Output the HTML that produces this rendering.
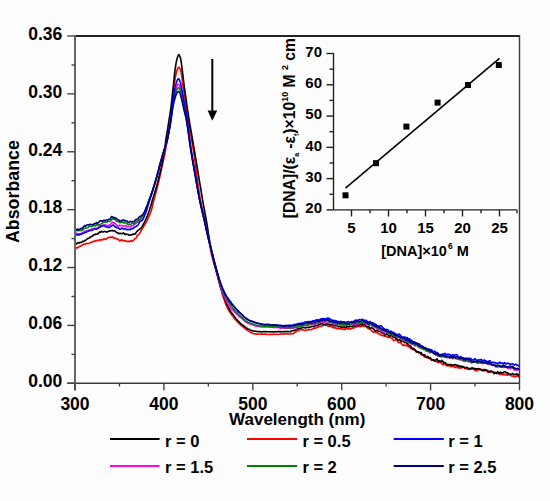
<!DOCTYPE html>
<html><head><meta charset="utf-8"><style>
html,body{margin:0;padding:0;background:#fdfdfd;}
svg{display:block;}
text{font-family:"Liberation Sans",sans-serif;font-weight:bold;fill:#000;stroke:none;}
</style></head><body>
<svg width="550" height="501" viewBox="0 0 550 501">
<rect width="550" height="501" fill="#fdfdfd"/>
<g><polyline points="75.0,248.89 75.5,248.80 76.0,248.43 76.5,247.81 77.0,247.56 77.5,247.84 78.0,247.59 78.5,247.18 79.0,246.75 79.5,246.40 80.0,246.16 80.5,245.92 81.0,246.02 81.5,245.89 82.0,245.64 82.5,244.71 83.0,244.71 83.5,244.17 84.0,244.23 84.5,243.88 85.0,244.06 85.5,244.15 86.0,243.69 86.5,243.38 87.0,243.30 87.5,243.68 88.0,243.68 88.5,243.58 89.0,243.38 89.5,243.03 90.0,242.65 90.5,242.40 91.0,242.43 91.5,242.45 92.0,242.03 92.5,241.82 93.0,241.21 93.5,241.39 94.0,241.32 94.5,241.38 95.0,241.12 95.5,240.68 96.0,241.07 96.5,240.51 97.0,240.40 97.5,240.28 98.0,240.84 98.5,240.46 99.0,240.09 99.5,239.80 100.0,240.02 100.5,240.36 101.0,239.92 101.5,240.01 102.0,239.33 102.5,239.77 103.0,239.57 103.5,239.59 104.0,238.78 104.5,239.00 105.0,239.09 105.5,239.46 106.0,239.18 106.5,238.93 107.0,238.47 107.5,237.90 108.0,237.50 108.5,237.79 109.0,237.52 109.5,237.45 110.0,236.99 110.5,237.27 111.0,237.45 111.5,237.22 112.0,236.79 112.5,236.69 113.0,237.29 113.5,237.94 114.0,238.13 114.5,237.98 115.0,238.08 115.5,238.18 116.0,238.64 116.5,238.61 117.0,238.89 117.5,238.88 118.0,239.32 118.5,239.49 119.0,240.22 119.5,240.59 120.0,241.04 120.5,240.23 121.0,240.01 121.5,239.72 122.0,240.43 122.5,240.15 123.0,240.65 123.5,240.86 124.0,241.15 124.5,240.73 125.0,240.34 125.5,240.63 126.0,240.98 126.5,241.58 127.0,241.53 127.5,241.56 128.0,241.16 128.5,241.57 129.0,241.57 129.5,241.83 130.0,241.22 130.5,241.02 131.0,240.55 131.5,241.11 132.0,241.29 132.5,241.36 133.0,240.72 133.5,240.30 134.0,239.71 134.5,239.03 135.0,238.42 135.5,238.49 136.0,238.08 136.5,237.33 137.0,236.01 137.5,235.21 138.0,234.85 138.5,234.66 139.0,234.30 139.5,233.55 140.0,232.63 140.5,231.85 141.0,230.66 141.5,229.75 142.0,228.95 142.5,228.28 143.0,227.46 143.5,226.48 144.0,225.72 144.5,225.07 145.0,224.27 145.5,223.43 146.0,222.54 146.5,221.74 147.0,220.95 147.5,219.55 148.0,218.44 148.5,217.08 149.0,216.12 149.5,214.97 150.0,213.90 150.5,212.73 151.0,211.34 151.5,209.88 152.0,208.00 152.5,205.95 153.0,203.76 153.5,201.61 154.0,199.78 154.5,197.92 155.0,196.28 155.5,194.31 156.0,192.38 156.5,190.37 157.0,188.49 157.5,186.53 158.0,184.57 158.5,182.49 159.0,180.56 159.5,178.32 160.0,176.14 160.5,173.67 161.0,171.33 161.5,168.93 162.0,166.65 162.5,164.49 163.0,162.34 163.5,160.09 164.0,157.72 164.5,155.29 165.0,152.77 165.5,150.15 166.0,147.34 166.5,144.47 167.0,141.67 167.5,138.63 168.0,135.75 168.5,132.55 169.0,129.45 169.5,125.92 170.0,122.23 170.5,118.48 171.0,114.72 171.5,110.81 172.0,106.31 172.5,101.28 173.0,96.04 173.5,90.99 174.0,86.66 174.5,82.91 175.0,79.52 175.5,76.34 176.0,73.94 176.5,72.08 177.0,70.46 177.5,68.96 178.0,67.79 178.5,67.34 179.0,67.51 179.5,68.07 180.0,68.95 180.5,70.05 181.0,71.53 181.5,74.43 182.0,78.13 182.5,82.26 183.0,86.01 183.5,89.23 184.0,92.26 184.5,95.32 185.0,98.57 185.5,102.17 186.0,105.85 186.5,109.39 187.0,112.50 187.5,115.65 188.0,118.94 188.5,121.96 189.0,124.89 189.5,127.65 190.0,130.51 190.5,133.50 191.0,136.29 191.5,139.23 192.0,142.02 192.5,145.11 193.0,148.07 193.5,151.38 194.0,154.69 194.5,158.28 195.0,161.70 195.5,165.36 196.0,169.14 196.5,173.03 197.0,176.88 197.5,180.63 198.0,184.24 198.5,187.72 199.0,191.08 199.5,194.29 200.0,197.30 200.5,200.08 201.0,202.69 201.5,205.09 202.0,207.25 202.5,209.34 203.0,211.54 203.5,213.61 204.0,215.65 204.5,217.68 205.0,220.07 205.5,222.32 206.0,224.75 206.5,227.19 207.0,229.74 207.5,232.34 208.0,234.89 208.5,237.56 209.0,240.29 209.5,243.20 210.0,246.30 210.5,249.37 211.0,252.03 211.5,254.45 212.0,256.39 212.5,258.46 213.0,260.21 213.5,261.92 214.0,263.63 214.5,265.40 215.0,267.20 215.5,268.85 216.0,270.58 216.5,272.39 217.0,274.19 217.5,275.97 218.0,277.97 218.5,279.96 219.0,281.97 219.5,283.92 220.0,285.83 220.5,287.53 221.0,289.13 221.5,290.88 222.0,292.74 222.5,294.54 223.0,296.22 223.5,297.72 224.0,299.27 224.5,300.76 225.0,302.29 225.5,303.62 226.0,304.85 226.5,305.98 227.0,307.02 227.5,308.02 228.0,309.00 228.5,309.92 229.0,310.99 229.5,311.78 230.0,312.49 230.5,313.07 231.0,313.75 231.5,314.46 232.0,315.19 232.5,315.80 233.0,316.32 233.5,316.96 234.0,317.62 234.5,318.57 235.0,319.09 235.5,319.65 236.0,320.24 236.5,320.77 237.0,321.42 237.5,321.94 238.0,322.53 238.5,323.00 239.0,323.39 239.5,323.90 240.0,324.30 240.5,324.77 241.0,325.18 241.5,325.82 242.0,326.17 242.5,326.47 243.0,326.77 243.5,327.16 244.0,327.64 244.5,328.01 245.0,328.53 245.5,328.88 246.0,329.27 246.5,329.43 247.0,329.81 247.5,330.31 248.0,330.80 248.5,331.16 249.0,331.29 249.5,331.66 250.0,331.97 250.5,332.20 251.0,332.44 251.5,332.67 252.0,333.04 252.5,333.15 253.0,333.46 253.5,333.62 254.0,333.82 254.5,333.78 255.0,333.83 255.5,333.97 256.0,334.03 256.5,334.15 257.0,334.14 257.5,334.28 258.0,334.27 258.5,334.23 259.0,333.97 259.5,333.94 260.0,334.02 260.5,334.20 261.0,334.24 261.5,334.14 262.0,334.10 262.5,333.97 263.0,334.14 263.5,334.19 264.0,334.24 264.5,334.00 265.0,333.98 265.5,334.16 266.0,334.33 266.5,334.28 267.0,334.29 267.5,334.39 268.0,334.56 268.5,334.50 269.0,334.48 269.5,334.44 270.0,334.44 270.5,334.25 271.0,334.35 271.5,334.30 272.0,334.59 272.5,334.22 273.0,334.27 273.5,334.16 274.0,334.34 274.5,334.32 275.0,334.29 275.5,334.39 276.0,334.28 276.5,334.18 277.0,334.23 277.5,334.43 278.0,334.45 278.5,334.34 279.0,334.22 279.5,334.32 280.0,334.18 280.5,334.00 281.0,333.89 281.5,333.87 282.0,333.95 282.5,333.94 283.0,334.12 283.5,334.05 284.0,334.13 284.5,333.84 285.0,334.03 285.5,333.72 286.0,333.77 286.5,333.77 287.0,333.90 287.5,333.95 288.0,333.80 288.5,333.89 289.0,333.96 289.5,333.97 290.0,334.00 290.5,333.85 291.0,333.73 291.5,333.44 292.0,333.61 292.5,333.72 293.0,333.84 293.5,333.48 294.0,333.08 294.5,332.72 295.0,332.34 295.5,332.13 296.0,331.76 296.5,331.36 297.0,330.89 297.5,330.45 298.0,330.52 298.5,330.68 299.0,330.52 299.5,330.18 300.0,329.46 300.5,329.53 301.0,329.57 301.5,329.82 302.0,329.99 302.5,329.84 303.0,330.05 303.5,330.03 304.0,330.14 304.5,330.35 305.0,330.50 305.5,330.47 306.0,330.07 306.5,329.94 307.0,330.06 307.5,329.99 308.0,329.72 308.5,329.57 309.0,329.59 309.5,329.62 310.0,329.53 310.5,329.68 311.0,329.60 311.5,329.49 312.0,329.21 312.5,329.05 313.0,328.91 313.5,328.39 314.0,328.18 314.5,327.94 315.0,328.28 315.5,328.00 316.0,327.92 316.5,327.54 317.0,327.65 317.5,327.43 318.0,327.16 318.5,326.76 319.0,326.49 319.5,326.40 320.0,326.20 320.5,326.18 321.0,326.35 321.5,326.16 322.0,326.00 322.5,325.51 323.0,325.61 323.5,325.31 324.0,325.16 324.5,324.98 325.0,325.27 325.5,325.39 326.0,325.32 326.5,325.11 327.0,325.28 327.5,325.75 328.0,326.09 328.5,326.16 329.0,326.12 329.5,326.03 330.0,326.10 330.5,326.13 331.0,326.54 331.5,326.77 332.0,326.75 332.5,327.07 333.0,327.56 333.5,327.88 334.0,327.86 334.5,327.70 335.0,328.03 335.5,327.79 336.0,328.19 336.5,328.08 337.0,328.77 337.5,328.59 338.0,328.73 338.5,328.55 339.0,328.82 339.5,328.81 340.0,328.84 340.5,328.60 341.0,328.45 341.5,328.81 342.0,329.03 342.5,329.39 343.0,329.37 343.5,329.04 344.0,329.03 344.5,329.15 345.0,329.57 345.5,329.10 346.0,328.01 346.5,327.56 347.0,328.28 347.5,328.90 348.0,329.08 348.5,328.98 349.0,328.87 349.5,328.91 350.0,328.85 350.5,329.01 351.0,328.89 351.5,328.39 352.0,328.20 352.5,327.80 353.0,328.02 353.5,328.28 354.0,328.01 354.5,327.02 355.0,326.17 355.5,326.29 356.0,326.93 356.5,327.20 357.0,326.85 357.5,326.34 358.0,326.31 358.5,326.16 359.0,326.53 359.5,326.11 360.0,326.49 360.5,326.35 361.0,326.54 361.5,326.52 362.0,326.08 362.5,325.94 363.0,325.74 363.5,326.06 364.0,326.37 364.5,326.43 365.0,326.37 365.5,326.12 366.0,326.38 366.5,327.04 367.0,327.34 367.5,328.05 368.0,328.28 368.5,328.77 369.0,328.48 369.5,328.79 370.0,329.33 370.5,329.49 371.0,329.99 371.5,330.49 372.0,331.30 372.5,331.38 373.0,331.84 373.5,332.34 374.0,332.24 374.5,331.86 375.0,331.75 375.5,332.20 376.0,331.82 376.5,332.30 377.0,332.40 377.5,333.29 378.0,333.26 378.5,333.87 379.0,333.94 379.5,333.95 380.0,334.05 380.5,334.69 381.0,334.99 381.5,335.40 382.0,335.26 382.5,335.38 383.0,335.60 383.5,335.48 384.0,336.09 384.5,335.72 385.0,336.27 385.5,335.84 386.0,335.95 386.5,336.32 387.0,336.92 387.5,337.37 388.0,337.15 388.5,337.42 389.0,337.22 389.5,337.23 390.0,337.27 390.5,337.63 391.0,337.96 391.5,338.20 392.0,338.61 392.5,338.96 393.0,339.67 393.5,340.22 394.0,340.86 394.5,340.59 395.0,340.37 395.5,339.80 396.0,339.92 396.5,339.68 397.0,340.15 397.5,340.71 398.0,342.03 398.5,342.72 399.0,342.47 399.5,342.36 400.0,342.07 400.5,342.80 401.0,342.86 401.5,343.59 402.0,344.35 402.5,344.90 403.0,345.58 403.5,345.10 404.0,344.97 404.5,344.91 405.0,345.62 405.5,345.80 406.0,345.68 406.5,344.98 407.0,345.35 407.5,345.87 408.0,346.55 408.5,346.71 409.0,346.31 409.5,346.73 410.0,347.43 410.5,348.33 411.0,348.60 411.5,348.28 412.0,348.93 412.5,349.14 413.0,349.79 413.5,349.79 414.0,349.47 414.5,349.81 415.0,349.87 415.5,350.95 416.0,351.69 416.5,352.19 417.0,351.84 417.5,351.65 418.0,351.89 418.5,352.80 419.0,352.83 419.5,352.58 420.0,353.02 420.5,353.81 421.0,354.61 421.5,354.24 422.0,354.97 422.5,354.40 423.0,355.11 423.5,355.49 424.0,356.61 424.5,357.07 425.0,356.37 425.5,357.10 426.0,356.91 426.5,357.60 427.0,357.49 427.5,357.82 428.0,358.26 428.5,358.03 429.0,358.37 429.5,358.33 430.0,358.85 430.5,359.40 431.0,359.89 431.5,360.13 432.0,360.02 432.5,359.79 433.0,359.97 433.5,360.57 434.0,360.85 434.5,361.28 435.0,361.20 435.5,361.20 436.0,361.53 436.5,361.43 437.0,361.88 437.5,362.25 438.0,362.42 438.5,362.58 439.0,361.84 439.5,362.19 440.0,361.94 440.5,362.48 441.0,362.65 441.5,363.30 442.0,364.06 442.5,364.47 443.0,364.79 443.5,364.47 444.0,364.47 444.5,364.18 445.0,363.81 445.5,364.05 446.0,364.94 446.5,365.77 447.0,365.73 447.5,365.88 448.0,365.75 448.5,365.86 449.0,365.13 449.5,365.10 450.0,365.34 450.5,366.42 451.0,366.77 451.5,366.65 452.0,365.98 452.5,366.08 453.0,365.99 453.5,366.31 454.0,366.68 454.5,367.39 455.0,367.62 455.5,367.11 456.0,366.58 456.5,366.87 457.0,367.66 457.5,367.78 458.0,367.52 458.5,367.27 459.0,367.96 459.5,368.02 460.0,367.92 460.5,367.88 461.0,367.92 461.5,368.11 462.0,367.55 462.5,366.65 463.0,366.48 463.5,366.60 464.0,367.62 464.5,368.13 465.0,368.75 465.5,368.61 466.0,368.47 466.5,368.79 467.0,368.73 467.5,369.04 468.0,368.96 468.5,369.31 469.0,369.53 469.5,369.16 470.0,369.42 470.5,368.76 471.0,368.80 471.5,368.25 472.0,368.72 472.5,368.72 473.0,369.11 473.5,368.68 474.0,369.34 474.5,369.93 475.0,370.39 475.5,370.62 476.0,370.29 476.5,370.92 477.0,370.51 477.5,369.93 478.0,369.78 478.5,369.77 479.0,369.99 479.5,369.41 480.0,369.02 480.5,369.34 481.0,369.28 481.5,370.28 482.0,370.60 482.5,370.49 483.0,369.66 483.5,369.36 484.0,369.36 484.5,369.86 485.0,370.10 485.5,370.54 486.0,370.50 486.5,370.76 487.0,371.52 487.5,372.24 488.0,372.20 488.5,372.14 489.0,371.58 489.5,371.80 490.0,371.37 490.5,371.92 491.0,371.54 491.5,371.66 492.0,371.55 492.5,372.20 493.0,372.18 493.5,372.13 494.0,372.12 494.5,372.73 495.0,372.75 495.5,372.85 496.0,372.80 496.5,373.58 497.0,373.82 497.5,373.60 498.0,372.61 498.5,372.56 499.0,373.41 499.5,374.21 500.0,374.54 500.5,374.13 501.0,373.76 501.5,373.81 502.0,374.07 502.5,374.77 503.0,374.22 503.5,374.33 504.0,374.02 504.5,374.75 505.0,374.60 505.5,374.68 506.0,374.33 506.5,374.96 507.0,375.21 507.5,375.22 508.0,374.59 508.5,374.32 509.0,375.03 509.5,374.84 510.0,374.94 510.5,374.74 511.0,375.69 511.5,375.95 512.0,376.06 512.5,375.99 513.0,376.40 513.5,376.26 514.0,376.61 514.5,376.46 515.0,377.00 515.5,376.28 516.0,376.60 516.5,375.87 517.0,375.87 517.5,375.85 518.0,376.10 518.5,376.81 519.0,376.46 519.5,377.32" fill="none" stroke="#ff0000" stroke-width="1.6" stroke-linejoin="round"/><polyline points="75.0,244.26 75.5,244.46 76.0,244.24 76.5,243.85 77.0,243.49 77.5,243.14 78.0,242.74 78.5,242.92 79.0,242.87 79.5,242.96 80.0,242.26 80.5,242.42 81.0,242.56 81.5,242.45 82.0,242.07 82.5,241.30 83.0,241.50 83.5,241.36 84.0,241.11 84.5,240.76 85.0,240.40 85.5,240.43 86.0,239.99 86.5,239.50 87.0,239.02 87.5,238.78 88.0,238.61 88.5,238.21 89.0,238.19 89.5,237.84 90.0,237.60 90.5,236.70 91.0,236.57 91.5,236.59 92.0,236.49 92.5,236.24 93.0,235.44 93.5,235.05 94.0,234.52 94.5,234.62 95.0,234.59 95.5,234.04 96.0,234.49 96.5,233.99 97.0,234.29 97.5,233.60 98.0,233.76 98.5,233.55 99.0,232.56 99.5,231.97 100.0,231.92 100.5,232.20 101.0,232.06 101.5,231.27 102.0,231.62 102.5,231.87 103.0,232.11 103.5,231.76 104.0,231.59 104.5,231.50 105.0,231.43 105.5,231.48 106.0,231.81 106.5,232.10 107.0,232.02 107.5,231.75 108.0,231.51 108.5,231.28 109.0,230.97 109.5,230.97 110.0,230.85 110.5,230.98 111.0,230.73 111.5,230.48 112.0,230.55 112.5,230.55 113.0,230.89 113.5,231.02 114.0,230.99 114.5,230.79 115.0,230.91 115.5,231.15 116.0,232.06 116.5,232.39 117.0,232.64 117.5,232.60 118.0,232.96 118.5,233.45 119.0,233.64 119.5,233.56 120.0,233.37 120.5,233.37 121.0,233.50 121.5,233.64 122.0,233.82 122.5,233.55 123.0,233.30 123.5,232.95 124.0,233.17 124.5,233.88 125.0,234.57 125.5,234.51 126.0,233.96 126.5,233.95 127.0,234.32 127.5,234.43 128.0,234.55 128.5,234.54 129.0,235.17 129.5,235.07 130.0,235.27 130.5,235.09 131.0,234.84 131.5,234.61 132.0,234.41 132.5,234.77 133.0,234.46 133.5,234.03 134.0,233.67 134.5,233.75 135.0,233.99 135.5,233.67 136.0,232.73 136.5,231.91 137.0,231.18 137.5,231.09 138.0,230.36 138.5,230.02 139.0,229.60 139.5,229.34 140.0,228.81 140.5,228.40 141.0,227.96 141.5,227.45 142.0,226.67 142.5,225.95 143.0,224.99 143.5,223.88 144.0,223.11 144.5,222.03 145.0,221.02 145.5,219.91 146.0,218.78 146.5,217.76 147.0,216.61 147.5,215.48 148.0,214.19 148.5,212.87 149.0,211.57 149.5,210.01 150.0,208.34 150.5,206.75 151.0,205.19 151.5,203.41 152.0,201.49 152.5,199.77 153.0,198.19 153.5,196.68 154.0,195.04 154.5,193.49 155.0,191.69 155.5,190.00 156.0,188.32 156.5,186.53 157.0,184.73 157.5,182.78 158.0,180.98 158.5,178.96 159.0,176.88 159.5,174.82 160.0,172.87 160.5,170.93 161.0,168.88 161.5,166.61 162.0,164.22 162.5,161.63 163.0,158.93 163.5,156.32 164.0,153.68 164.5,150.72 165.0,146.77 165.5,142.23 166.0,138.42 166.5,135.56 167.0,132.76 167.5,129.93 168.0,126.68 168.5,123.36 169.0,120.13 169.5,116.97 170.0,113.82 170.5,110.55 171.0,106.95 171.5,102.94 172.0,98.34 172.5,93.57 173.0,88.80 173.5,84.13 174.0,79.22 174.5,74.44 175.0,70.15 175.5,66.83 176.0,63.62 176.5,61.00 177.0,58.95 177.5,57.37 178.0,55.87 178.5,54.77 179.0,54.64 179.5,55.44 180.0,56.68 180.5,58.18 181.0,60.48 181.5,64.18 182.0,68.04 182.5,71.89 183.0,76.00 183.5,80.27 184.0,84.53 184.5,88.31 185.0,91.86 185.5,95.34 186.0,98.72 186.5,102.16 187.0,105.74 187.5,109.35 188.0,112.72 188.5,115.87 189.0,118.93 189.5,122.02 190.0,124.97 190.5,128.00 191.0,130.79 191.5,133.65 192.0,136.47 192.5,139.40 193.0,142.39 193.5,145.29 194.0,148.23 194.5,151.18 195.0,154.15 195.5,157.08 196.0,160.00 196.5,162.99 197.0,166.08 197.5,169.17 198.0,172.29 198.5,175.35 199.0,178.45 199.5,181.44 200.0,184.31 200.5,187.22 201.0,190.19 201.5,193.30 202.0,196.40 202.5,199.48 203.0,202.41 203.5,205.20 204.0,207.80 204.5,210.44 205.0,212.95 205.5,215.60 206.0,218.28 206.5,221.24 207.0,224.16 207.5,227.39 208.0,230.67 208.5,234.05 209.0,237.16 209.5,240.09 210.0,242.85 210.5,245.62 211.0,248.30 211.5,250.99 212.0,253.62 212.5,255.92 213.0,258.20 213.5,260.10 214.0,262.12 214.5,263.99 215.0,266.11 215.5,268.04 216.0,269.84 216.5,271.75 217.0,273.74 217.5,275.76 218.0,277.59 218.5,279.44 219.0,281.39 219.5,283.34 220.0,285.05 220.5,286.91 221.0,288.50 221.5,290.14 222.0,291.50 222.5,292.90 223.0,294.41 223.5,295.72 224.0,296.96 224.5,298.03 225.0,299.21 225.5,300.50 226.0,301.86 226.5,303.11 227.0,304.45 227.5,305.53 228.0,306.61 228.5,307.53 229.0,308.33 229.5,309.18 230.0,310.02 230.5,310.99 231.0,311.85 231.5,312.61 232.0,313.31 232.5,314.02 233.0,314.59 233.5,315.17 234.0,315.93 234.5,316.60 235.0,317.32 235.5,317.94 236.0,318.68 236.5,319.28 237.0,319.72 237.5,320.19 238.0,320.70 238.5,321.30 239.0,321.82 239.5,322.38 240.0,322.87 240.5,323.36 241.0,323.91 241.5,324.39 242.0,324.65 242.5,325.00 243.0,325.23 243.5,325.65 244.0,326.03 244.5,326.44 245.0,326.90 245.5,327.28 246.0,327.63 246.5,327.92 247.0,328.19 247.5,328.62 248.0,328.99 248.5,329.12 249.0,329.23 249.5,329.40 250.0,329.85 250.5,330.15 251.0,330.41 251.5,330.55 252.0,330.63 252.5,330.76 253.0,330.86 253.5,330.94 254.0,331.01 254.5,331.11 255.0,331.17 255.5,331.29 256.0,331.35 256.5,331.57 257.0,331.48 257.5,331.46 258.0,331.53 258.5,331.68 259.0,331.63 259.5,331.55 260.0,331.62 260.5,331.70 261.0,331.73 261.5,331.85 262.0,331.87 262.5,331.84 263.0,331.54 263.5,331.50 264.0,331.65 264.5,331.75 265.0,331.71 265.5,331.50 266.0,331.52 266.5,331.71 267.0,331.74 267.5,331.82 268.0,331.71 268.5,331.82 269.0,331.81 269.5,331.93 270.0,331.86 270.5,331.79 271.0,331.79 271.5,331.70 272.0,331.74 272.5,331.74 273.0,331.99 273.5,331.97 274.0,331.89 274.5,331.79 275.0,331.72 275.5,331.71 276.0,331.74 276.5,331.85 277.0,331.75 277.5,331.67 278.0,331.39 278.5,331.59 279.0,331.56 279.5,331.83 280.0,331.60 280.5,331.64 281.0,331.66 281.5,331.90 282.0,331.74 282.5,331.78 283.0,331.63 283.5,331.69 284.0,331.64 284.5,331.61 285.0,331.66 285.5,331.50 286.0,331.55 286.5,331.58 287.0,331.64 287.5,331.47 288.0,331.39 288.5,331.44 289.0,331.69 289.5,331.70 290.0,331.75 290.5,331.49 291.0,331.23 291.5,331.00 292.0,330.73 292.5,330.78 293.0,330.68 293.5,330.61 294.0,330.37 294.5,330.39 295.0,330.29 295.5,330.16 296.0,329.75 296.5,329.54 297.0,329.32 297.5,329.11 298.0,328.63 298.5,328.70 299.0,328.37 299.5,328.45 300.0,328.22 300.5,328.29 301.0,328.18 301.5,328.05 302.0,327.79 302.5,327.80 303.0,327.47 303.5,327.44 304.0,327.54 304.5,327.72 305.0,327.83 305.5,327.84 306.0,327.75 306.5,327.54 307.0,327.28 307.5,327.48 308.0,327.52 308.5,327.54 309.0,327.19 309.5,327.15 310.0,327.09 310.5,327.01 311.0,326.85 311.5,326.55 312.0,326.31 312.5,326.29 313.0,326.42 313.5,326.60 314.0,326.41 314.5,326.02 315.0,325.84 315.5,325.81 316.0,325.56 316.5,325.46 317.0,325.33 317.5,325.75 318.0,325.29 318.5,324.84 319.0,324.57 319.5,324.34 320.0,324.33 320.5,323.89 321.0,323.93 321.5,323.63 322.0,323.70 322.5,323.99 323.0,324.35 323.5,324.42 324.0,324.14 324.5,324.30 325.0,324.30 325.5,324.55 326.0,324.01 326.5,324.00 327.0,323.63 327.5,324.04 328.0,324.08 328.5,324.16 329.0,324.21 329.5,324.49 330.0,324.91 330.5,325.10 331.0,324.83 331.5,324.72 332.0,324.52 332.5,324.84 333.0,325.33 333.5,325.77 334.0,325.88 334.5,325.55 335.0,325.68 335.5,325.75 336.0,325.72 336.5,325.39 337.0,325.47 337.5,325.78 338.0,326.56 338.5,326.72 339.0,326.76 339.5,326.38 340.0,326.75 340.5,326.81 341.0,327.09 341.5,326.86 342.0,327.36 342.5,327.31 343.0,327.13 343.5,326.93 344.0,326.82 344.5,327.11 345.0,326.97 345.5,327.38 346.0,327.13 346.5,327.23 347.0,326.64 347.5,326.68 348.0,326.57 348.5,326.73 349.0,326.89 349.5,326.75 350.0,326.50 350.5,326.52 351.0,326.52 351.5,326.50 352.0,326.43 352.5,326.57 353.0,326.02 353.5,325.55 354.0,325.43 354.5,326.10 355.0,325.93 355.5,325.98 356.0,325.46 356.5,325.39 357.0,324.92 357.5,324.97 358.0,325.09 358.5,325.19 359.0,325.07 359.5,325.12 360.0,324.63 360.5,324.53 361.0,324.56 361.5,324.71 362.0,325.01 362.5,324.52 363.0,324.50 363.5,324.32 364.0,324.61 364.5,324.77 365.0,325.00 365.5,325.35 366.0,325.98 366.5,326.26 367.0,326.52 367.5,326.73 368.0,326.70 368.5,326.42 369.0,326.86 369.5,327.72 370.0,328.37 370.5,328.26 371.0,327.89 371.5,327.73 372.0,327.92 372.5,327.98 373.0,328.77 373.5,328.72 374.0,329.38 374.5,329.84 375.0,330.72 375.5,330.77 376.0,330.75 376.5,330.18 377.0,330.29 377.5,330.31 378.0,331.15 378.5,331.36 379.0,331.60 379.5,331.46 380.0,331.48 380.5,331.50 381.0,332.08 381.5,332.60 382.0,332.98 382.5,333.01 383.0,333.04 383.5,333.45 384.0,333.85 384.5,334.70 385.0,334.94 385.5,334.62 386.0,334.22 386.5,333.85 387.0,333.94 387.5,334.09 388.0,334.81 388.5,335.69 389.0,335.95 389.5,336.11 390.0,335.55 390.5,335.86 391.0,335.55 391.5,335.66 392.0,335.99 392.5,336.51 393.0,337.08 393.5,337.13 394.0,337.04 394.5,337.34 395.0,337.54 395.5,338.12 396.0,338.03 396.5,338.50 397.0,338.81 397.5,339.76 398.0,340.24 398.5,340.37 399.0,340.03 399.5,339.40 400.0,339.58 400.5,340.45 401.0,341.73 401.5,341.21 402.0,340.80 402.5,340.44 403.0,341.14 403.5,341.68 404.0,342.04 404.5,342.46 405.0,342.65 405.5,342.41 406.0,342.54 406.5,342.56 407.0,343.59 407.5,343.68 408.0,344.18 408.5,344.44 409.0,345.23 409.5,345.85 410.0,345.74 410.5,346.21 411.0,346.56 411.5,347.76 412.0,348.19 412.5,348.69 413.0,348.36 413.5,348.52 414.0,348.91 414.5,349.43 415.0,350.18 415.5,350.27 416.0,351.09 416.5,351.73 417.0,351.62 417.5,351.89 418.0,351.66 418.5,352.40 419.0,352.15 419.5,352.58 420.0,352.45 420.5,352.60 421.0,352.49 421.5,353.25 422.0,354.07 422.5,354.84 423.0,355.19 423.5,355.04 424.0,354.60 424.5,354.91 425.0,355.42 425.5,356.34 426.0,356.93 426.5,357.10 427.0,357.20 427.5,356.32 428.0,356.79 428.5,357.07 429.0,357.77 429.5,357.93 430.0,357.83 430.5,358.08 431.0,358.74 431.5,359.45 432.0,360.05 432.5,359.84 433.0,359.95 433.5,359.87 434.0,360.46 434.5,360.37 435.0,360.66 435.5,360.03 436.0,360.07 436.5,359.23 437.0,358.83 437.5,359.53 438.0,360.83 438.5,361.40 439.0,361.05 439.5,360.92 440.0,360.89 440.5,361.58 441.0,361.23 441.5,361.47 442.0,360.26 442.5,361.19 443.0,361.58 443.5,363.07 444.0,362.48 444.5,362.73 445.0,362.43 445.5,362.97 446.0,363.66 446.5,364.49 447.0,365.02 447.5,364.44 448.0,364.19 448.5,364.35 449.0,364.80 449.5,364.87 450.0,364.77 450.5,364.48 451.0,364.53 451.5,365.02 452.0,365.13 452.5,365.22 453.0,365.12 453.5,365.14 454.0,365.19 454.5,364.55 455.0,364.88 455.5,364.61 456.0,364.95 456.5,365.09 457.0,365.53 457.5,365.83 458.0,365.35 458.5,366.01 459.0,366.08 459.5,366.56 460.0,365.98 460.5,366.24 461.0,366.35 461.5,366.50 462.0,366.35 462.5,366.89 463.0,366.87 463.5,367.23 464.0,367.25 464.5,367.51 465.0,367.83 465.5,367.80 466.0,367.57 466.5,367.36 467.0,367.47 467.5,367.89 468.0,367.94 468.5,368.69 469.0,368.85 469.5,368.99 470.0,368.28 470.5,368.68 471.0,368.59 471.5,368.50 472.0,367.80 472.5,368.04 473.0,368.57 473.5,368.53 474.0,368.21 474.5,368.25 475.0,369.10 475.5,368.98 476.0,368.73 476.5,368.73 477.0,369.03 477.5,369.08 478.0,368.73 478.5,368.57 479.0,368.78 479.5,369.10 480.0,369.14 480.5,369.23 481.0,369.54 481.5,370.10 482.0,370.43 482.5,370.00 483.0,370.43 483.5,369.99 484.0,370.81 484.5,370.36 485.0,370.48 485.5,369.76 486.0,369.89 486.5,370.08 487.0,370.27 487.5,370.43 488.0,370.91 488.5,371.52 489.0,371.66 489.5,371.97 490.0,371.55 490.5,371.48 491.0,370.90 491.5,371.51 492.0,371.48 492.5,371.53 493.0,371.85 493.5,372.94 494.0,373.87 494.5,373.13 495.0,372.70 495.5,372.62 496.0,373.16 496.5,372.72 497.0,372.40 497.5,371.88 498.0,372.01 498.5,372.76 499.0,373.47 499.5,373.39 500.0,372.28 500.5,372.20 501.0,372.44 501.5,373.05 502.0,372.70 502.5,372.81 503.0,372.69 503.5,372.56 504.0,372.03 504.5,371.58 505.0,371.67 505.5,372.17 506.0,372.51 506.5,372.69 507.0,372.91 507.5,372.68 508.0,373.19 508.5,373.74 509.0,374.24 509.5,374.03 510.0,373.96 510.5,374.22 511.0,374.38 511.5,374.11 512.0,373.83 512.5,373.53 513.0,373.86 513.5,374.52 514.0,374.63 514.5,374.48 515.0,374.26 515.5,374.52 516.0,374.38 516.5,374.25 517.0,373.85 517.5,374.11 518.0,374.18 518.5,375.45 519.0,375.79 519.5,375.80" fill="none" stroke="#000000" stroke-width="1.6" stroke-linejoin="round"/><polyline points="75.0,232.71 75.5,233.10 76.0,232.88 76.5,233.51 77.0,233.80 77.5,234.75 78.0,234.36 78.5,234.17 79.0,233.71 79.5,234.05 80.0,234.21 80.5,233.57 81.0,233.59 81.5,233.54 82.0,233.77 82.5,233.03 83.0,232.70 83.5,232.16 84.0,231.96 84.5,231.47 85.0,231.59 85.5,231.26 86.0,231.06 86.5,230.87 87.0,230.87 87.5,230.80 88.0,230.39 88.5,230.42 89.0,230.17 89.5,230.21 90.0,230.32 90.5,230.44 91.0,230.06 91.5,229.27 92.0,229.10 92.5,228.89 93.0,228.68 93.5,228.36 94.0,228.25 94.5,228.63 95.0,228.32 95.5,228.71 96.0,228.18 96.5,228.32 97.0,227.93 97.5,227.93 98.0,227.85 98.5,227.29 99.0,226.55 99.5,226.15 100.0,225.79 100.5,225.96 101.0,226.01 101.5,226.15 102.0,225.98 102.5,225.38 103.0,225.22 103.5,225.20 104.0,225.02 104.5,225.09 105.0,224.86 105.5,225.21 106.0,225.04 106.5,225.46 107.0,225.57 107.5,225.64 108.0,225.36 108.5,225.20 109.0,225.40 109.5,225.39 110.0,224.92 110.5,224.20 111.0,223.80 111.5,222.97 112.0,222.69 112.5,222.04 113.0,222.74 113.5,222.69 114.0,223.12 114.5,222.92 115.0,223.39 115.5,223.95 116.0,224.90 116.5,224.96 117.0,224.97 117.5,225.64 118.0,226.22 118.5,226.42 119.0,225.79 119.5,225.09 120.0,225.50 120.5,225.47 121.0,225.78 121.5,225.72 122.0,225.59 122.5,225.71 123.0,225.60 123.5,225.86 124.0,226.01 124.5,225.92 125.0,225.60 125.5,225.45 126.0,225.74 126.5,226.39 127.0,226.87 127.5,226.84 128.0,226.53 128.5,226.44 129.0,226.16 129.5,226.57 130.0,226.40 130.5,226.60 131.0,226.11 131.5,225.82 132.0,226.01 132.5,225.79 133.0,225.77 133.5,225.18 134.0,224.78 134.5,224.60 135.0,223.97 135.5,223.87 136.0,223.47 136.5,222.95 137.0,222.58 137.5,222.11 138.0,221.65 138.5,220.99 139.0,220.52 139.5,220.65 140.0,219.92 140.5,219.56 141.0,218.73 141.5,218.57 142.0,217.88 142.5,217.35 143.0,216.72 143.5,215.81 144.0,214.48 144.5,213.24 145.0,212.13 145.5,211.23 146.0,210.07 146.5,208.80 147.0,207.57 147.5,206.10 148.0,204.65 148.5,203.09 149.0,201.62 149.5,200.10 150.0,198.58 150.5,197.03 151.0,195.51 151.5,194.00 152.0,192.57 152.5,191.01 153.0,189.44 153.5,187.87 154.0,186.38 154.5,184.65 155.0,182.92 155.5,181.14 156.0,179.50 156.5,177.75 157.0,175.98 157.5,174.19 158.0,172.33 158.5,170.43 159.0,168.51 159.5,166.58 160.0,164.71 160.5,162.76 161.0,160.89 161.5,159.12 162.0,157.31 162.5,155.56 163.0,153.85 163.5,152.28 164.0,150.59 164.5,148.99 165.0,147.43 165.5,145.90 166.0,144.41 166.5,142.66 167.0,140.90 167.5,138.64 168.0,136.31 168.5,133.65 169.0,130.78 169.5,127.83 170.0,124.72 170.5,121.46 171.0,118.08 171.5,114.16 172.0,110.04 172.5,106.23 173.0,102.94 173.5,99.96 174.0,97.23 174.5,94.85 175.0,92.33 175.5,90.14 176.0,88.35 176.5,86.95 177.0,85.76 177.5,84.68 178.0,84.21 178.5,84.18 179.0,84.80 179.5,85.67 180.0,86.77 180.5,88.18 181.0,90.23 181.5,92.47 182.0,94.69 182.5,96.99 183.0,99.48 183.5,102.21 184.0,104.73 184.5,107.27 185.0,109.56 185.5,112.18 186.0,114.75 186.5,117.60 187.0,120.75 187.5,124.06 188.0,127.81 188.5,131.65 189.0,135.53 189.5,139.40 190.0,143.07 190.5,146.74 191.0,149.88 191.5,153.08 192.0,156.17 192.5,159.25 193.0,162.07 193.5,164.97 194.0,167.91 194.5,170.85 195.0,173.72 195.5,176.47 196.0,179.36 196.5,182.25 197.0,185.23 197.5,188.31 198.0,191.16 198.5,193.89 199.0,196.45 199.5,198.92 200.0,201.42 200.5,203.74 201.0,206.01 201.5,208.13 202.0,210.13 202.5,212.26 203.0,214.33 203.5,216.62 204.0,218.81 204.5,221.06 205.0,223.12 205.5,225.52 206.0,227.95 206.5,230.38 207.0,232.52 207.5,234.65 208.0,236.71 208.5,238.92 209.0,240.97 209.5,242.93 210.0,244.75 210.5,246.54 211.0,248.66 211.5,250.73 212.0,253.00 212.5,255.06 213.0,256.91 213.5,258.75 214.0,260.58 214.5,262.58 215.0,264.37 215.5,266.24 216.0,268.17 216.5,270.30 217.0,272.29 217.5,274.29 218.0,276.21 218.5,278.21 219.0,280.14 219.5,282.05 220.0,283.95 220.5,285.82 221.0,287.65 221.5,289.32 222.0,290.85 222.5,292.11 223.0,293.42 223.5,294.72 224.0,295.92 224.5,296.96 225.0,297.93 225.5,299.01 226.0,300.09 226.5,301.08 227.0,302.11 227.5,302.95 228.0,303.87 228.5,304.64 229.0,305.44 229.5,306.26 230.0,306.99 230.5,307.76 231.0,308.28 231.5,308.92 232.0,309.49 232.5,310.04 233.0,310.39 233.5,310.91 234.0,311.46 234.5,312.08 235.0,312.52 235.5,312.95 236.0,313.43 236.5,313.81 237.0,314.28 237.5,314.76 238.0,315.26 238.5,315.66 239.0,316.22 239.5,316.75 240.0,317.24 240.5,317.51 241.0,317.71 241.5,318.06 242.0,318.50 242.5,319.20 243.0,319.58 243.5,319.97 244.0,320.43 244.5,321.02 245.0,321.48 245.5,321.81 246.0,322.10 246.5,322.39 247.0,322.66 247.5,323.00 248.0,323.18 248.5,323.46 249.0,323.50 249.5,323.72 250.0,324.03 250.5,324.30 251.0,324.57 251.5,324.45 252.0,324.63 252.5,324.69 253.0,324.88 253.5,325.09 254.0,325.41 254.5,325.64 255.0,325.84 255.5,325.79 256.0,325.96 256.5,325.99 257.0,326.25 257.5,326.21 258.0,326.25 258.5,326.36 259.0,326.54 259.5,326.66 260.0,326.57 260.5,326.59 261.0,326.69 261.5,326.88 262.0,326.90 262.5,326.87 263.0,326.88 263.5,326.86 264.0,327.00 264.5,326.98 265.0,327.09 265.5,326.80 266.0,326.66 266.5,326.59 267.0,326.77 267.5,326.83 268.0,326.97 268.5,327.05 269.0,327.15 269.5,326.92 270.0,327.06 270.5,327.07 271.0,327.35 271.5,327.16 272.0,327.21 272.5,327.24 273.0,327.36 273.5,327.49 274.0,327.43 274.5,327.66 275.0,327.39 275.5,327.39 276.0,327.33 276.5,327.55 277.0,327.61 277.5,327.35 278.0,327.56 278.5,327.45 279.0,327.76 279.5,327.70 280.0,328.07 280.5,328.23 281.0,328.18 281.5,328.03 282.0,327.87 282.5,327.79 283.0,328.02 283.5,328.05 284.0,328.32 284.5,328.11 285.0,328.19 285.5,328.12 286.0,328.27 286.5,328.15 287.0,328.37 287.5,328.30 288.0,328.11 288.5,328.06 289.0,328.08 289.5,328.27 290.0,328.48 290.5,328.47 291.0,328.37 291.5,327.90 292.0,327.90 292.5,327.98 293.0,328.16 293.5,328.18 294.0,328.02 294.5,327.78 295.0,327.63 295.5,327.60 296.0,327.44 296.5,327.38 297.0,327.41 297.5,327.19 298.0,326.89 298.5,326.67 299.0,326.77 299.5,326.65 300.0,326.82 300.5,326.59 301.0,326.42 301.5,326.13 302.0,325.80 302.5,325.67 303.0,325.59 303.5,325.59 304.0,325.48 304.5,325.43 305.0,325.59 305.5,325.63 306.0,325.40 306.5,325.13 307.0,325.08 307.5,324.92 308.0,325.34 308.5,325.29 309.0,325.19 309.5,324.70 310.0,324.55 310.5,324.30 311.0,324.09 311.5,324.25 312.0,324.16 312.5,324.12 313.0,323.95 313.5,324.35 314.0,324.18 314.5,324.16 315.0,323.74 315.5,324.08 316.0,323.81 316.5,323.70 317.0,323.42 317.5,323.31 318.0,323.10 318.5,323.22 319.0,322.94 319.5,323.16 320.0,322.58 320.5,322.21 321.0,321.70 321.5,321.66 322.0,322.02 322.5,322.46 323.0,322.42 323.5,322.18 324.0,321.59 324.5,321.53 325.0,321.62 325.5,321.43 326.0,321.70 326.5,321.89 327.0,322.80 327.5,322.46 328.0,322.36 328.5,322.04 329.0,322.08 329.5,322.05 330.0,321.99 330.5,322.49 331.0,322.88 331.5,323.48 332.0,323.45 332.5,323.23 333.0,323.19 333.5,323.46 334.0,323.98 334.5,324.25 335.0,324.18 335.5,324.34 336.0,324.02 336.5,324.31 337.0,324.42 337.5,324.73 338.0,324.87 338.5,324.56 339.0,324.55 339.5,324.63 340.0,324.74 340.5,324.75 341.0,325.26 341.5,325.57 342.0,325.58 342.5,324.84 343.0,325.08 343.5,324.66 344.0,324.79 344.5,324.62 345.0,325.08 345.5,325.26 346.0,324.89 346.5,325.01 347.0,324.90 347.5,325.12 348.0,325.15 348.5,325.15 349.0,325.38 349.5,325.27 350.0,325.08 350.5,324.71 351.0,324.62 351.5,324.32 352.0,323.85 352.5,323.50 353.0,323.79 353.5,323.95 354.0,324.04 354.5,324.51 355.0,324.80 355.5,324.72 356.0,323.80 356.5,323.74 357.0,323.50 357.5,323.84 358.0,323.57 358.5,324.01 359.0,323.49 359.5,323.52 360.0,322.74 360.5,322.86 361.0,322.91 361.5,323.54 362.0,323.18 362.5,323.14 363.0,323.14 363.5,323.65 364.0,323.40 364.5,323.32 365.0,323.30 365.5,323.82 366.0,324.13 366.5,324.67 367.0,324.74 367.5,324.45 368.0,324.36 368.5,324.87 369.0,325.06 369.5,325.25 370.0,324.66 370.5,324.86 371.0,325.00 371.5,325.62 372.0,326.25 372.5,326.54 373.0,326.79 373.5,326.42 374.0,326.77 374.5,326.89 375.0,327.53 375.5,327.59 376.0,327.52 376.5,328.13 377.0,328.19 377.5,328.26 378.0,328.17 378.5,328.44 379.0,329.03 379.5,329.65 380.0,329.99 380.5,330.26 381.0,330.67 381.5,330.54 382.0,330.82 382.5,330.73 383.0,331.74 383.5,332.47 384.0,332.18 384.5,332.14 385.0,331.71 385.5,331.98 386.0,331.82 386.5,331.65 387.0,332.08 387.5,332.70 388.0,333.02 388.5,333.35 389.0,333.19 389.5,333.41 390.0,332.65 390.5,333.32 391.0,334.02 391.5,334.89 392.0,334.67 392.5,334.29 393.0,334.74 393.5,335.04 394.0,335.78 394.5,335.89 395.0,335.70 395.5,335.29 396.0,335.57 396.5,335.69 397.0,336.44 397.5,336.79 398.0,337.12 398.5,337.46 399.0,337.41 399.5,338.17 400.0,337.99 400.5,338.19 401.0,338.37 401.5,339.33 402.0,339.78 402.5,340.02 403.0,339.29 403.5,339.39 404.0,339.26 404.5,339.85 405.0,340.05 405.5,340.77 406.0,341.20 406.5,341.40 407.0,341.32 407.5,341.78 408.0,341.69 408.5,341.96 409.0,342.20 409.5,342.64 410.0,343.12 410.5,343.21 411.0,344.11 411.5,344.44 412.0,343.92 412.5,343.57 413.0,343.56 413.5,344.55 414.0,344.91 414.5,345.63 415.0,345.96 415.5,345.74 416.0,345.22 416.5,344.52 417.0,345.64 417.5,346.03 418.0,346.85 418.5,346.10 419.0,346.24 419.5,346.66 420.0,347.25 420.5,347.50 421.0,347.42 421.5,348.38 422.0,348.57 422.5,348.56 423.0,348.04 423.5,348.33 424.0,348.98 424.5,349.29 425.0,349.29 425.5,349.49 426.0,349.90 426.5,350.05 427.0,350.93 427.5,351.55 428.0,351.65 428.5,351.16 429.0,351.17 429.5,352.34 430.0,353.21 430.5,352.55 431.0,352.02 431.5,351.54 432.0,352.48 432.5,352.71 433.0,353.22 433.5,353.41 434.0,354.18 434.5,353.88 435.0,354.02 435.5,354.04 436.0,354.51 436.5,355.05 437.0,355.13 437.5,355.88 438.0,355.48 438.5,356.25 439.0,356.46 439.5,356.52 440.0,356.23 440.5,355.93 441.0,355.98 441.5,356.22 442.0,356.39 442.5,356.51 443.0,356.39 443.5,356.56 444.0,356.85 444.5,356.67 445.0,356.97 445.5,356.79 446.0,357.18 446.5,357.09 447.0,357.69 447.5,357.09 448.0,356.72 448.5,356.50 449.0,357.06 449.5,357.41 450.0,357.69 450.5,357.86 451.0,357.82 451.5,358.04 452.0,358.45 452.5,357.88 453.0,358.31 453.5,357.85 454.0,358.76 454.5,357.70 455.0,357.81 455.5,357.30 456.0,358.24 456.5,358.78 457.0,359.29 457.5,359.04 458.0,359.03 458.5,358.88 459.0,358.89 459.5,358.68 460.0,359.36 460.5,359.70 461.0,359.69 461.5,359.70 462.0,360.00 462.5,360.95 463.0,360.82 463.5,360.93 464.0,361.27 464.5,361.48 465.0,361.38 465.5,361.03 466.0,361.10 466.5,361.32 467.0,361.12 467.5,361.14 468.0,361.50 468.5,361.62 469.0,361.63 469.5,361.35 470.0,361.48 470.5,361.94 471.0,362.36 471.5,363.00 472.0,362.58 472.5,362.27 473.0,361.23 473.5,361.71 474.0,361.98 474.5,362.37 475.0,362.06 475.5,361.64 476.0,361.42 476.5,361.92 477.0,362.83 477.5,362.97 478.0,363.30 478.5,362.73 479.0,362.69 479.5,362.40 480.0,362.70 480.5,363.28 481.0,363.08 481.5,363.40 482.0,363.24 482.5,363.57 483.0,363.31 483.5,363.19 484.0,362.50 484.5,361.86 485.0,362.10 485.5,362.86 486.0,362.94 486.5,362.95 487.0,363.42 487.5,363.54 488.0,364.02 488.5,363.79 489.0,364.71 489.5,364.26 490.0,364.39 490.5,363.87 491.0,364.86 491.5,364.63 492.0,365.31 492.5,364.80 493.0,365.24 493.5,364.79 494.0,365.25 494.5,365.51 495.0,366.09 495.5,366.61 496.0,366.65 496.5,366.99 497.0,366.75 497.5,367.29 498.0,366.93 498.5,366.77 499.0,366.20 499.5,366.66 500.0,366.88 500.5,367.26 501.0,367.23 501.5,367.05 502.0,366.84 502.5,366.94 503.0,366.46 503.5,366.96 504.0,366.71 504.5,367.36 505.0,367.07 505.5,367.23 506.0,366.95 506.5,366.86 507.0,367.42 507.5,368.24 508.0,368.75 508.5,368.23 509.0,367.91 509.5,367.93 510.0,368.62 510.5,368.77 511.0,368.24 511.5,367.28 512.0,367.79 512.5,367.71 513.0,368.52 513.5,368.47 514.0,370.04 514.5,370.10 515.0,369.94 515.5,369.24 516.0,369.50 516.5,370.11 517.0,370.36 517.5,370.14 518.0,369.27 518.5,369.33 519.0,369.55 519.5,370.81" fill="none" stroke="#ff00ff" stroke-width="1.6" stroke-linejoin="round"/><polyline points="75.0,230.17 75.5,230.69 76.0,230.30 76.5,230.63 77.0,230.66 77.5,230.80 78.0,230.79 78.5,230.54 79.0,230.44 79.5,230.36 80.0,230.43 80.5,230.51 81.0,230.54 81.5,230.61 82.0,230.25 82.5,230.39 83.0,229.80 83.5,229.29 84.0,228.77 84.5,228.47 85.0,228.44 85.5,228.21 86.0,228.18 86.5,227.92 87.0,227.77 87.5,227.73 88.0,227.57 88.5,226.98 89.0,226.71 89.5,226.35 90.0,226.32 90.5,226.05 91.0,226.37 91.5,226.61 92.0,226.60 92.5,226.32 93.0,225.80 93.5,225.51 94.0,225.37 94.5,225.59 95.0,225.83 95.5,225.87 96.0,225.51 96.5,224.63 97.0,224.50 97.5,224.64 98.0,225.22 98.5,225.00 99.0,224.75 99.5,224.92 100.0,224.60 100.5,224.50 101.0,223.91 101.5,223.81 102.0,223.28 102.5,222.88 103.0,222.35 103.5,222.39 104.0,222.29 104.5,222.19 105.0,221.81 105.5,221.55 106.0,222.08 106.5,222.11 107.0,222.30 107.5,221.59 108.0,221.30 108.5,221.37 109.0,221.41 109.5,221.36 110.0,221.06 110.5,221.02 111.0,220.56 111.5,219.78 112.0,219.04 112.5,218.69 113.0,219.09 113.5,218.95 114.0,219.26 114.5,218.74 115.0,219.10 115.5,219.60 116.0,220.50 116.5,221.20 117.0,221.35 117.5,221.32 118.0,221.28 118.5,221.40 119.0,221.92 119.5,222.47 120.0,222.75 120.5,222.49 121.0,222.07 121.5,222.13 122.0,222.28 122.5,222.17 123.0,222.49 123.5,222.63 124.0,223.04 124.5,222.66 125.0,222.58 125.5,222.96 126.0,223.09 126.5,223.44 127.0,223.53 127.5,224.27 128.0,224.50 128.5,224.45 129.0,224.01 129.5,224.08 130.0,224.29 130.5,224.27 131.0,224.16 131.5,223.85 132.0,223.52 132.5,223.09 133.0,223.21 133.5,223.72 134.0,223.86 134.5,223.35 135.0,222.56 135.5,222.19 136.0,221.97 136.5,221.41 137.0,221.04 137.5,220.39 138.0,220.44 138.5,219.97 139.0,219.84 139.5,219.50 140.0,219.15 140.5,218.39 141.0,217.57 141.5,217.22 142.0,217.02 142.5,216.36 143.0,215.19 143.5,214.50 144.0,214.07 144.5,213.28 145.0,211.85 145.5,210.35 146.0,208.62 146.5,207.22 147.0,205.96 147.5,204.95 148.0,203.34 148.5,201.84 149.0,200.32 149.5,199.12 150.0,197.63 150.5,196.23 151.0,194.73 151.5,193.39 152.0,192.05 152.5,190.61 153.0,189.12 153.5,187.47 154.0,186.02 154.5,184.45 155.0,182.67 155.5,180.95 156.0,179.26 156.5,177.65 157.0,175.84 157.5,173.97 158.0,172.10 158.5,170.27 159.0,168.51 159.5,166.67 160.0,164.81 160.5,162.82 161.0,160.98 161.5,159.10 162.0,157.36 162.5,155.74 163.0,154.19 163.5,152.53 164.0,150.71 164.5,148.92 165.0,147.37 165.5,145.94 166.0,144.34 166.5,142.71 167.0,140.91 167.5,139.03 168.0,136.61 168.5,134.12 169.0,131.39 169.5,128.50 170.0,125.35 170.5,122.25 171.0,119.08 171.5,115.38 172.0,111.35 172.5,107.83 173.0,104.77 173.5,101.93 174.0,99.48 174.5,97.07 175.0,94.99 175.5,93.18 176.0,91.82 176.5,90.50 177.0,89.34 177.5,88.50 178.0,87.99 178.5,87.76 179.0,88.14 179.5,88.94 180.0,89.95 180.5,91.30 181.0,93.31 181.5,95.48 182.0,97.58 182.5,99.78 183.0,102.29 183.5,104.85 184.0,107.21 184.5,109.61 185.0,111.92 185.5,114.31 186.0,116.57 186.5,119.27 187.0,122.45 187.5,125.78 188.0,129.31 188.5,132.85 189.0,136.64 189.5,140.24 190.0,143.76 190.5,147.18 191.0,150.45 191.5,153.70 192.0,156.63 192.5,159.65 193.0,162.48 193.5,165.46 194.0,168.15 194.5,171.06 195.0,173.76 195.5,176.64 196.0,179.49 196.5,182.28 197.0,185.10 197.5,188.05 198.0,190.90 198.5,193.71 199.0,196.30 199.5,199.08 200.0,201.51 200.5,203.80 201.0,205.85 201.5,208.02 202.0,210.19 202.5,212.38 203.0,214.49 203.5,216.56 204.0,218.70 204.5,220.93 205.0,223.15 205.5,225.38 206.0,227.74 206.5,229.99 207.0,232.39 207.5,234.70 208.0,237.01 208.5,239.19 209.0,241.02 209.5,242.95 210.0,244.73 210.5,246.74 211.0,248.58 211.5,250.52 212.0,252.61 212.5,254.74 213.0,256.85 213.5,258.81 214.0,260.73 214.5,262.48 215.0,264.25 215.5,266.09 216.0,268.11 216.5,269.97 217.0,271.77 217.5,273.52 218.0,275.50 218.5,277.38 219.0,279.14 219.5,280.66 220.0,282.29 220.5,283.81 221.0,285.42 221.5,286.87 222.0,288.40 222.5,289.81 223.0,291.18 223.5,292.63 224.0,293.77 224.5,294.87 225.0,295.62 225.5,296.47 226.0,297.45 226.5,298.55 227.0,299.48 227.5,300.25 228.0,301.03 228.5,301.92 229.0,302.55 229.5,303.31 230.0,304.04 230.5,304.98 231.0,305.55 231.5,306.31 232.0,307.00 232.5,307.67 233.0,308.28 233.5,308.79 234.0,309.41 234.5,309.91 235.0,310.50 235.5,311.05 236.0,311.74 236.5,312.30 237.0,312.80 237.5,313.33 238.0,313.90 238.5,314.54 239.0,314.94 239.5,315.43 240.0,315.82 240.5,316.22 241.0,316.63 241.5,317.10 242.0,317.62 242.5,318.12 243.0,318.43 243.5,318.88 244.0,319.20 244.5,319.72 245.0,320.14 245.5,320.59 246.0,320.94 246.5,321.31 247.0,321.63 247.5,322.04 248.0,322.34 248.5,322.56 249.0,322.66 249.5,322.80 250.0,323.10 250.5,323.41 251.0,323.52 251.5,323.53 252.0,323.61 252.5,323.80 253.0,324.12 253.5,324.35 254.0,324.63 254.5,324.71 255.0,324.96 255.5,325.02 256.0,325.18 256.5,325.13 257.0,325.27 257.5,325.42 258.0,325.62 258.5,325.79 259.0,325.75 259.5,325.81 260.0,325.93 260.5,326.09 261.0,326.11 261.5,326.01 262.0,326.00 262.5,326.07 263.0,326.26 263.5,326.38 264.0,326.40 264.5,326.24 265.0,326.12 265.5,326.37 266.0,326.43 266.5,326.57 267.0,326.33 267.5,326.41 268.0,326.38 268.5,326.46 269.0,326.60 269.5,326.59 270.0,326.65 270.5,326.52 271.0,326.69 271.5,326.59 272.0,326.66 272.5,326.51 273.0,326.42 273.5,326.26 274.0,326.30 274.5,326.40 275.0,326.54 275.5,326.80 276.0,326.84 276.5,326.97 277.0,326.91 277.5,327.01 278.0,326.90 278.5,326.98 279.0,327.16 279.5,327.28 280.0,327.26 280.5,327.26 281.0,327.20 281.5,327.27 282.0,327.35 282.5,327.76 283.0,327.64 283.5,327.54 284.0,327.37 284.5,327.49 285.0,327.57 285.5,327.59 286.0,327.65 286.5,327.71 287.0,327.78 287.5,327.62 288.0,327.69 288.5,327.35 289.0,327.76 289.5,327.79 290.0,327.97 290.5,327.85 291.0,327.67 291.5,327.76 292.0,327.68 292.5,327.69 293.0,327.57 293.5,327.49 294.0,327.35 294.5,327.22 295.0,326.93 295.5,326.63 296.0,326.81 296.5,326.97 297.0,326.94 297.5,326.69 298.0,326.52 298.5,326.31 299.0,326.05 299.5,325.91 300.0,326.38 300.5,326.56 301.0,326.64 301.5,326.31 302.0,326.16 302.5,325.66 303.0,325.56 303.5,325.38 304.0,325.23 304.5,325.05 305.0,325.06 305.5,325.43 306.0,325.51 306.5,325.08 307.0,324.68 307.5,324.29 308.0,324.50 308.5,324.30 309.0,324.13 309.5,323.60 310.0,323.68 310.5,323.83 311.0,323.91 311.5,323.67 312.0,323.49 312.5,323.71 313.0,323.53 313.5,323.47 314.0,323.19 314.5,323.37 315.0,323.47 315.5,323.46 316.0,323.33 316.5,323.24 317.0,323.17 317.5,323.05 318.0,322.72 318.5,322.19 319.0,322.04 319.5,321.74 320.0,321.63 320.5,321.44 321.0,321.17 321.5,321.10 322.0,320.96 322.5,321.24 323.0,321.26 323.5,321.36 324.0,321.53 324.5,321.70 325.0,321.40 325.5,320.78 326.0,320.48 326.5,320.56 327.0,320.58 327.5,320.50 328.0,320.44 328.5,320.80 329.0,321.50 329.5,322.26 330.0,322.32 330.5,322.11 331.0,321.67 331.5,321.69 332.0,321.90 332.5,322.30 333.0,322.62 333.5,322.87 334.0,322.90 334.5,323.34 335.0,323.24 335.5,323.59 336.0,323.47 336.5,323.72 337.0,323.81 337.5,323.71 338.0,323.66 338.5,323.63 339.0,323.95 339.5,324.23 340.0,324.15 340.5,323.99 341.0,323.95 341.5,324.17 342.0,324.28 342.5,324.55 343.0,324.63 343.5,324.97 344.0,324.88 344.5,324.56 345.0,324.83 345.5,324.52 346.0,324.78 346.5,324.49 347.0,324.71 347.5,324.68 348.0,324.35 348.5,324.20 349.0,324.16 349.5,324.59 350.0,324.49 350.5,324.58 351.0,324.32 351.5,324.40 352.0,324.04 352.5,323.81 353.0,323.29 353.5,323.32 354.0,323.31 354.5,323.46 355.0,323.43 355.5,323.31 356.0,323.15 356.5,323.11 357.0,322.82 357.5,323.44 358.0,322.93 358.5,322.80 359.0,322.04 359.5,322.29 360.0,322.72 360.5,322.89 361.0,322.75 361.5,322.95 362.0,323.22 362.5,323.30 363.0,322.90 363.5,322.37 364.0,322.53 364.5,323.07 365.0,323.27 365.5,323.04 366.0,322.78 366.5,322.61 367.0,323.43 367.5,323.17 368.0,323.72 368.5,323.48 369.0,324.30 369.5,324.72 370.0,324.44 370.5,323.87 371.0,323.98 371.5,324.11 372.0,324.66 372.5,324.62 373.0,325.59 373.5,326.21 374.0,326.05 374.5,326.22 375.0,326.34 375.5,327.05 376.0,327.06 376.5,326.84 377.0,327.20 377.5,327.70 378.0,328.58 378.5,329.27 379.0,329.31 379.5,328.97 380.0,329.07 380.5,328.63 381.0,328.69 381.5,328.81 382.0,330.35 382.5,330.72 383.0,330.79 383.5,330.11 384.0,330.51 384.5,330.68 385.0,330.99 385.5,331.33 386.0,331.52 386.5,332.08 387.0,332.13 387.5,332.06 388.0,332.18 388.5,332.68 389.0,333.01 389.5,333.55 390.0,333.65 390.5,333.98 391.0,333.83 391.5,333.80 392.0,333.85 392.5,334.31 393.0,334.89 393.5,335.23 394.0,335.13 394.5,335.02 395.0,335.56 395.5,336.24 396.0,336.33 396.5,336.43 397.0,336.21 397.5,336.77 398.0,337.32 398.5,337.28 399.0,336.74 399.5,336.48 400.0,336.48 400.5,337.79 401.0,337.85 401.5,338.45 402.0,338.25 402.5,338.74 403.0,338.92 403.5,339.07 404.0,339.51 404.5,339.77 405.0,340.53 405.5,340.59 406.0,340.22 406.5,340.17 407.0,339.78 407.5,340.81 408.0,341.44 408.5,342.51 409.0,342.32 409.5,341.67 410.0,341.60 410.5,342.60 411.0,342.88 411.5,343.44 412.0,343.36 412.5,343.79 413.0,343.67 413.5,344.32 414.0,344.16 414.5,344.13 415.0,344.16 415.5,345.14 416.0,345.35 416.5,345.07 417.0,344.70 417.5,345.49 418.0,345.82 418.5,346.83 419.0,347.15 419.5,347.67 420.0,347.56 420.5,347.75 421.0,348.17 421.5,348.36 422.0,348.53 422.5,348.76 423.0,348.98 423.5,349.44 424.0,349.42 424.5,349.45 425.0,349.45 425.5,350.22 426.0,351.12 426.5,350.83 427.0,350.67 427.5,350.31 428.0,350.91 428.5,350.94 429.0,351.24 429.5,351.40 430.0,351.64 430.5,351.99 431.0,352.00 431.5,351.93 432.0,351.75 432.5,351.99 433.0,352.75 433.5,352.98 434.0,353.51 434.5,353.57 435.0,354.32 435.5,354.57 436.0,355.06 436.5,355.04 437.0,355.29 437.5,355.39 438.0,355.15 438.5,355.35 439.0,355.71 439.5,356.30 440.0,356.23 440.5,356.44 441.0,356.53 441.5,357.05 442.0,355.89 442.5,355.97 443.0,355.53 443.5,356.41 444.0,356.79 444.5,356.96 445.0,356.84 445.5,355.73 446.0,356.06 446.5,356.57 447.0,357.49 447.5,357.18 448.0,356.95 448.5,357.26 449.0,357.64 449.5,358.20 450.0,357.78 450.5,357.25 451.0,356.85 451.5,357.44 452.0,357.77 452.5,357.70 453.0,357.21 453.5,357.05 454.0,356.91 454.5,356.57 455.0,357.11 455.5,357.56 456.0,358.52 456.5,358.31 457.0,358.10 457.5,357.47 458.0,357.41 458.5,357.99 459.0,359.43 459.5,359.69 460.0,359.45 460.5,359.03 461.0,359.27 461.5,359.70 462.0,359.48 462.5,359.73 463.0,359.96 463.5,360.11 464.0,359.96 464.5,360.07 465.0,360.27 465.5,360.60 466.0,360.24 466.5,360.52 467.0,360.57 467.5,360.94 468.0,361.15 468.5,361.42 469.0,361.77 469.5,361.15 470.0,361.42 470.5,361.32 471.0,362.33 471.5,362.21 472.0,362.37 472.5,361.82 473.0,361.55 473.5,361.08 474.0,360.96 474.5,361.54 475.0,361.61 475.5,361.87 476.0,361.94 476.5,362.57 477.0,362.87 477.5,363.09 478.0,362.43 478.5,362.06 479.0,361.75 479.5,362.46 480.0,362.79 480.5,362.52 481.0,362.19 481.5,361.62 482.0,362.13 482.5,361.73 483.0,362.33 483.5,362.48 484.0,363.34 484.5,362.89 485.0,362.73 485.5,362.46 486.0,362.96 486.5,363.49 487.0,363.80 487.5,363.59 488.0,362.92 488.5,363.18 489.0,363.81 489.5,363.93 490.0,363.37 490.5,363.29 491.0,363.64 491.5,364.51 492.0,364.63 492.5,365.10 493.0,365.35 493.5,365.19 494.0,364.96 494.5,365.18 495.0,365.64 495.5,365.92 496.0,365.86 496.5,365.87 497.0,365.84 497.5,365.16 498.0,365.62 498.5,365.66 499.0,366.10 499.5,365.24 500.0,365.72 500.5,366.08 501.0,366.65 501.5,366.77 502.0,365.89 502.5,366.14 503.0,365.33 503.5,366.88 504.0,366.17 504.5,366.34 505.0,365.36 505.5,366.39 506.0,367.03 506.5,367.40 507.0,367.13 507.5,367.55 508.0,367.26 508.5,367.47 509.0,367.40 509.5,367.30 510.0,367.02 510.5,366.89 511.0,367.45 511.5,367.36 512.0,367.12 512.5,367.62 513.0,368.01 513.5,368.33 514.0,367.91 514.5,367.90 515.0,368.27 515.5,368.66 516.0,369.36 516.5,369.00 517.0,368.91 517.5,368.79 518.0,369.13 518.5,369.18 519.0,369.14 519.5,369.56" fill="none" stroke="#008000" stroke-width="1.6" stroke-linejoin="round"/><polyline points="75.0,234.94 75.5,235.24 76.0,235.13 76.5,234.91 77.0,234.64 77.5,234.53 78.0,234.60 78.5,234.94 79.0,235.00 79.5,234.68 80.0,234.48 80.5,234.49 81.0,234.35 81.5,234.20 82.0,233.49 82.5,233.23 83.0,233.18 83.5,233.33 84.0,233.30 84.5,232.63 85.0,232.40 85.5,232.50 86.0,232.41 86.5,232.11 87.0,231.70 87.5,231.47 88.0,231.25 88.5,230.98 89.0,231.02 89.5,230.69 90.0,230.54 90.5,230.15 91.0,230.15 91.5,230.31 92.0,230.38 92.5,229.96 93.0,229.75 93.5,229.33 94.0,229.13 94.5,228.81 95.0,229.01 95.5,229.23 96.0,229.20 96.5,229.13 97.0,228.97 97.5,228.57 98.0,228.24 98.5,227.79 99.0,227.75 99.5,227.50 100.0,227.34 100.5,226.75 101.0,226.41 101.5,226.18 102.0,226.31 102.5,226.10 103.0,225.79 103.5,225.38 104.0,225.58 104.5,226.02 105.0,226.51 105.5,226.48 106.0,226.86 106.5,227.08 107.0,227.25 107.5,227.17 108.0,227.16 108.5,227.43 109.0,227.39 109.5,227.44 110.0,227.05 110.5,226.53 111.0,226.13 111.5,225.99 112.0,225.62 112.5,225.30 113.0,224.89 113.5,225.44 114.0,225.76 114.5,226.50 115.0,226.51 115.5,227.10 116.0,227.15 116.5,227.55 117.0,227.76 117.5,227.99 118.0,228.09 118.5,228.26 119.0,228.42 119.5,228.88 120.0,229.29 120.5,229.24 121.0,228.96 121.5,228.16 122.0,228.07 122.5,228.31 123.0,228.73 123.5,229.08 124.0,229.09 124.5,228.91 125.0,228.55 125.5,228.76 126.0,229.07 126.5,229.76 127.0,229.61 127.5,229.79 128.0,229.49 128.5,229.52 129.0,229.31 129.5,229.44 130.0,229.64 130.5,229.70 131.0,228.90 131.5,228.44 132.0,228.16 132.5,228.77 133.0,228.66 133.5,228.28 134.0,227.64 134.5,227.17 135.0,226.76 135.5,226.79 136.0,226.57 136.5,226.27 137.0,225.69 137.5,225.49 138.0,224.90 138.5,224.15 139.0,223.10 139.5,222.36 140.0,221.74 140.5,221.17 141.0,221.07 141.5,220.80 142.0,220.61 142.5,219.80 143.0,219.20 143.5,218.05 144.0,217.02 144.5,215.75 145.0,214.68 145.5,213.49 146.0,212.19 146.5,210.71 147.0,209.08 147.5,207.32 148.0,205.56 148.5,203.98 149.0,202.31 149.5,200.74 150.0,199.10 150.5,197.48 151.0,196.15 151.5,194.72 152.0,193.13 152.5,191.38 153.0,189.62 153.5,187.90 154.0,186.11 154.5,184.40 155.0,182.83 155.5,181.17 156.0,179.37 156.5,177.60 157.0,175.81 157.5,174.11 158.0,172.32 158.5,170.44 159.0,168.60 159.5,166.54 160.0,164.46 160.5,162.54 161.0,160.76 161.5,159.15 162.0,157.32 162.5,155.59 163.0,153.83 163.5,152.18 164.0,150.52 164.5,148.90 165.0,147.31 165.5,145.85 166.0,144.32 166.5,142.72 167.0,140.73 167.5,138.53 168.0,135.97 168.5,133.23 169.0,130.07 169.5,126.94 170.0,123.66 170.5,120.33 171.0,116.57 171.5,112.31 172.0,107.95 172.5,104.01 173.0,100.47 173.5,97.10 174.0,94.01 174.5,91.09 175.0,88.27 175.5,85.74 176.0,83.87 176.5,82.24 177.0,80.87 177.5,79.66 178.0,78.95 178.5,78.71 179.0,79.16 179.5,80.23 180.0,81.39 180.5,82.93 181.0,84.93 181.5,87.52 182.0,90.05 182.5,92.65 183.0,95.33 183.5,98.20 184.0,101.11 184.5,103.91 185.0,106.69 185.5,109.42 186.0,112.21 186.5,115.13 187.0,118.41 187.5,122.10 188.0,126.08 188.5,130.20 189.0,134.19 189.5,138.15 190.0,141.95 190.5,145.63 191.0,149.00 191.5,152.29 192.0,155.47 192.5,158.64 193.0,161.65 193.5,164.61 194.0,167.54 194.5,170.49 195.0,173.47 195.5,176.27 196.0,179.26 196.5,182.15 197.0,185.08 197.5,187.90 198.0,190.69 198.5,193.49 199.0,196.17 199.5,198.90 200.0,201.32 200.5,203.70 201.0,205.86 201.5,208.22 202.0,210.33 202.5,212.48 203.0,214.56 203.5,216.59 204.0,218.68 204.5,220.70 205.0,223.00 205.5,225.35 206.0,227.76 206.5,230.15 207.0,232.36 207.5,234.53 208.0,236.62 208.5,238.68 209.0,240.70 209.5,242.62 210.0,244.67 210.5,246.76 211.0,248.76 211.5,250.71 212.0,252.49 212.5,254.45 213.0,256.44 213.5,258.44 214.0,260.46 214.5,262.31 215.0,264.28 215.5,266.05 216.0,267.82 216.5,269.62 217.0,271.52 217.5,273.37 218.0,275.14 218.5,276.74 219.0,278.38 219.5,280.00 220.0,281.55 220.5,282.99 221.0,284.38 221.5,285.77 222.0,287.12 222.5,288.38 223.0,289.36 223.5,290.53 224.0,291.64 224.5,292.85 225.0,293.63 225.5,294.50 226.0,295.52 226.5,296.53 227.0,297.18 227.5,297.76 228.0,298.48 228.5,299.31 229.0,300.16 229.5,300.91 230.0,301.43 230.5,302.00 231.0,302.61 231.5,303.52 232.0,304.13 232.5,304.66 233.0,305.13 233.5,305.78 234.0,306.34 234.5,307.01 235.0,307.55 235.5,308.30 236.0,308.82 236.5,309.41 237.0,309.99 237.5,310.58 238.0,311.04 238.5,311.46 239.0,311.92 239.5,312.45 240.0,312.90 240.5,313.32 241.0,313.72 241.5,314.19 242.0,314.42 242.5,314.95 243.0,315.57 243.5,316.31 244.0,316.80 244.5,317.14 245.0,317.47 245.5,317.87 246.0,318.26 246.5,318.67 247.0,319.00 247.5,319.28 248.0,319.58 248.5,319.88 249.0,320.24 249.5,320.49 250.0,320.74 250.5,320.91 251.0,320.97 251.5,320.99 252.0,321.16 252.5,321.43 253.0,321.79 253.5,321.89 254.0,322.11 254.5,322.18 255.0,322.38 255.5,322.52 256.0,322.70 256.5,322.90 257.0,323.04 257.5,323.18 258.0,323.35 258.5,323.50 259.0,323.56 259.5,323.57 260.0,323.66 260.5,323.77 261.0,323.93 261.5,324.28 262.0,324.50 262.5,324.57 263.0,324.45 263.5,324.46 264.0,324.61 264.5,324.73 265.0,324.64 265.5,324.76 266.0,324.59 266.5,324.73 267.0,324.48 267.5,324.43 268.0,324.28 268.5,324.57 269.0,324.90 269.5,325.00 270.0,324.73 270.5,324.76 271.0,324.79 271.5,324.97 272.0,325.06 272.5,325.26 273.0,325.40 273.5,325.26 274.0,325.04 274.5,324.84 275.0,324.68 275.5,324.93 276.0,324.93 276.5,325.18 277.0,325.14 277.5,325.26 278.0,325.35 278.5,325.41 279.0,325.45 279.5,325.55 280.0,325.66 280.5,325.63 281.0,325.70 281.5,325.57 282.0,325.79 282.5,325.73 283.0,325.87 283.5,325.75 284.0,325.65 284.5,325.62 285.0,325.57 285.5,325.69 286.0,325.62 286.5,325.63 287.0,325.65 287.5,325.58 288.0,325.43 288.5,325.19 289.0,325.21 289.5,325.33 290.0,325.53 290.5,325.38 291.0,325.46 291.5,325.22 292.0,325.40 292.5,325.12 293.0,324.88 293.5,324.57 294.0,324.54 294.5,324.63 295.0,324.80 295.5,324.45 296.0,324.38 296.5,324.13 297.0,324.30 297.5,323.92 298.0,323.83 298.5,323.48 299.0,323.72 299.5,323.45 300.0,323.60 300.5,323.30 301.0,323.40 301.5,323.10 302.0,323.11 302.5,322.95 303.0,323.23 303.5,323.02 304.0,322.81 304.5,322.17 305.0,321.95 305.5,322.12 306.0,322.24 306.5,322.13 307.0,321.76 307.5,321.88 308.0,321.59 308.5,321.81 309.0,321.69 309.5,322.00 310.0,321.63 310.5,321.77 311.0,321.51 311.5,321.56 312.0,321.18 312.5,320.97 313.0,320.73 313.5,320.74 314.0,320.81 314.5,320.67 315.0,320.44 315.5,320.23 316.0,319.99 316.5,319.89 317.0,319.75 317.5,319.91 318.0,319.89 318.5,320.15 319.0,320.10 319.5,319.81 320.0,319.54 320.5,319.06 321.0,319.08 321.5,318.82 322.0,319.17 322.5,318.89 323.0,318.93 323.5,318.50 324.0,318.68 324.5,318.73 325.0,318.67 325.5,318.91 326.0,318.90 326.5,318.87 327.0,318.40 327.5,318.05 328.0,318.04 328.5,318.29 329.0,318.36 329.5,318.94 330.0,318.79 330.5,319.26 331.0,319.66 331.5,320.05 332.0,320.26 332.5,320.31 333.0,320.45 333.5,320.68 334.0,320.40 334.5,320.50 335.0,320.54 335.5,320.83 336.0,320.88 336.5,321.03 337.0,321.29 337.5,321.70 338.0,321.79 338.5,321.59 339.0,321.70 339.5,321.96 340.0,322.03 340.5,321.47 341.0,321.29 341.5,321.70 342.0,322.36 342.5,322.15 343.0,322.21 343.5,321.85 344.0,322.28 344.5,321.92 345.0,322.31 345.5,322.22 346.0,322.26 346.5,322.21 347.0,321.96 347.5,321.92 348.0,321.70 348.5,321.66 349.0,321.93 349.5,322.18 350.0,322.32 350.5,321.85 351.0,321.67 351.5,321.65 352.0,321.90 352.5,321.69 353.0,321.47 353.5,321.52 354.0,321.27 354.5,321.15 355.0,320.31 355.5,320.24 356.0,320.06 356.5,320.27 357.0,320.39 357.5,320.27 358.0,320.36 358.5,320.06 359.0,320.04 359.5,319.47 360.0,319.63 360.5,319.87 361.0,320.09 361.5,319.88 362.0,319.35 362.5,319.54 363.0,319.49 363.5,320.09 364.0,320.23 364.5,320.74 365.0,320.56 365.5,320.30 366.0,320.26 366.5,320.45 367.0,321.44 367.5,321.67 368.0,322.31 368.5,322.14 369.0,322.16 369.5,321.59 370.0,321.55 370.5,321.94 371.0,322.50 371.5,322.83 372.0,322.97 372.5,322.84 373.0,323.08 373.5,323.05 374.0,323.64 374.5,324.18 375.0,324.15 375.5,324.37 376.0,324.38 376.5,325.43 377.0,325.77 377.5,325.71 378.0,325.87 378.5,326.23 379.0,326.21 379.5,326.24 380.0,325.86 380.5,325.85 381.0,325.78 381.5,326.20 382.0,326.55 382.5,327.53 383.0,327.64 383.5,328.53 384.0,328.44 384.5,329.60 385.0,329.63 385.5,330.10 386.0,329.41 386.5,329.71 387.0,329.38 387.5,329.63 388.0,329.95 388.5,330.80 389.0,331.88 389.5,332.19 390.0,331.56 390.5,330.95 391.0,331.13 391.5,331.83 392.0,332.42 392.5,332.38 393.0,332.17 393.5,332.35 394.0,332.63 394.5,333.50 395.0,333.38 395.5,333.85 396.0,334.04 396.5,335.03 397.0,335.57 397.5,335.09 398.0,334.38 398.5,334.06 399.0,334.32 399.5,334.17 400.0,334.78 400.5,335.40 401.0,336.63 401.5,336.47 402.0,336.89 402.5,336.88 403.0,337.09 403.5,337.54 404.0,337.34 404.5,337.68 405.0,336.87 405.5,337.88 406.0,337.89 406.5,338.23 407.0,337.48 407.5,337.72 408.0,338.90 408.5,339.83 409.0,339.67 409.5,338.72 410.0,339.66 410.5,340.20 411.0,340.62 411.5,340.06 412.0,340.66 412.5,341.82 413.0,341.97 413.5,341.84 414.0,341.82 414.5,341.89 415.0,342.47 415.5,342.58 416.0,343.37 416.5,343.30 417.0,343.30 417.5,343.35 418.0,343.96 418.5,343.98 419.0,343.90 419.5,344.07 420.0,344.65 420.5,345.83 421.0,346.24 421.5,346.98 422.0,346.53 422.5,346.59 423.0,346.50 423.5,347.09 424.0,347.21 424.5,347.89 425.0,347.59 425.5,348.23 426.0,348.08 426.5,348.43 427.0,348.84 427.5,349.29 428.0,349.57 428.5,349.09 429.0,349.27 429.5,349.31 430.0,349.93 430.5,349.62 431.0,350.11 431.5,349.90 432.0,350.34 432.5,351.03 433.0,352.04 433.5,352.19 434.0,351.84 434.5,351.05 435.0,351.51 435.5,352.15 436.0,352.62 436.5,352.46 437.0,352.43 437.5,352.71 438.0,353.22 438.5,353.74 439.0,354.20 439.5,354.48 440.0,354.69 440.5,354.73 441.0,354.83 441.5,354.37 442.0,354.14 442.5,354.49 443.0,354.11 443.5,354.42 444.0,353.64 444.5,353.85 445.0,353.48 445.5,353.79 446.0,354.21 446.5,355.02 447.0,354.56 447.5,354.52 448.0,354.04 448.5,354.45 449.0,354.37 449.5,354.58 450.0,354.77 450.5,354.85 451.0,355.48 451.5,355.59 452.0,355.74 452.5,354.80 453.0,355.16 453.5,354.97 454.0,355.36 454.5,354.88 455.0,355.10 455.5,354.96 456.0,354.91 456.5,354.63 457.0,354.92 457.5,355.43 458.0,356.19 458.5,356.94 459.0,357.62 459.5,357.36 460.0,356.80 460.5,356.62 461.0,356.69 461.5,357.39 462.0,357.62 462.5,357.75 463.0,357.78 463.5,358.04 464.0,358.61 464.5,358.44 465.0,358.09 465.5,358.23 466.0,358.22 466.5,358.49 467.0,358.39 467.5,358.49 468.0,358.19 468.5,358.52 469.0,358.54 469.5,358.97 470.0,358.32 470.5,358.60 471.0,358.62 471.5,359.33 472.0,359.72 472.5,359.89 473.0,360.00 473.5,359.69 474.0,359.27 474.5,358.81 475.0,358.70 475.5,359.13 476.0,359.81 476.5,360.18 477.0,360.21 477.5,360.18 478.0,360.02 478.5,360.06 479.0,359.84 479.5,360.05 480.0,359.98 480.5,359.68 481.0,359.56 481.5,359.44 482.0,360.39 482.5,360.98 483.0,361.11 483.5,360.41 484.0,360.07 484.5,359.89 485.0,360.59 485.5,360.67 486.0,361.07 486.5,361.11 487.0,361.61 487.5,361.91 488.0,362.01 488.5,361.25 489.0,361.10 489.5,360.68 490.0,360.81 490.5,361.41 491.0,362.49 491.5,362.69 492.0,362.39 492.5,362.11 493.0,362.52 493.5,362.80 494.0,362.35 494.5,362.63 495.0,362.44 495.5,362.99 496.0,363.13 496.5,363.61 497.0,363.23 497.5,363.07 498.0,363.15 498.5,363.16 499.0,362.97 499.5,362.20 500.0,362.33 500.5,362.59 501.0,363.56 501.5,363.37 502.0,363.00 502.5,363.08 503.0,363.76 503.5,363.86 504.0,363.36 504.5,362.50 505.0,362.82 505.5,363.35 506.0,364.12 506.5,363.84 507.0,363.55 507.5,363.12 508.0,363.54 508.5,363.31 509.0,363.74 509.5,364.04 510.0,364.34 510.5,364.30 511.0,364.09 511.5,364.31 512.0,364.15 512.5,364.05 513.0,363.83 513.5,364.44 514.0,364.66 514.5,365.00 515.0,364.65 515.5,364.35 516.0,364.26 516.5,364.69 517.0,365.17 517.5,365.29 518.0,365.23 518.5,365.68 519.0,366.17 519.5,366.49" fill="none" stroke="#0000ff" stroke-width="1.6" stroke-linejoin="round"/><polyline points="75.0,228.94 75.5,229.16 76.0,229.40 76.5,229.68 77.0,229.70 77.5,229.07 78.0,229.22 78.5,229.51 79.0,229.95 79.5,229.48 80.0,229.08 80.5,228.55 81.0,228.70 81.5,228.57 82.0,228.62 82.5,227.60 83.0,227.52 83.5,226.89 84.0,226.44 84.5,225.64 85.0,225.61 85.5,226.29 86.0,225.81 86.5,225.27 87.0,224.83 87.5,224.94 88.0,225.01 88.5,224.64 89.0,224.88 89.5,224.54 90.0,224.57 90.5,224.26 91.0,224.50 91.5,224.45 92.0,224.73 92.5,224.64 93.0,224.91 93.5,224.22 94.0,223.98 94.5,223.62 95.0,223.83 95.5,223.15 96.0,222.87 96.5,222.55 97.0,223.44 97.5,223.15 98.0,223.19 98.5,222.25 99.0,222.21 99.5,221.26 100.0,221.05 100.5,220.62 101.0,220.68 101.5,220.94 102.0,220.86 102.5,221.40 103.0,220.75 103.5,220.45 104.0,220.13 104.5,220.24 105.0,220.52 105.5,220.44 106.0,220.31 106.5,220.08 107.0,219.97 107.5,220.08 108.0,219.89 108.5,219.53 109.0,219.27 109.5,219.20 110.0,219.29 110.5,218.48 111.0,217.49 111.5,216.52 112.0,216.80 112.5,216.70 113.0,217.30 113.5,217.66 114.0,217.60 114.5,217.58 115.0,217.59 115.5,218.40 116.0,218.24 116.5,218.53 117.0,218.83 117.5,219.71 118.0,219.93 118.5,219.95 119.0,220.25 119.5,220.64 120.0,221.28 120.5,220.97 121.0,220.87 121.5,220.66 122.0,220.61 122.5,220.09 123.0,220.22 123.5,219.99 124.0,220.65 124.5,220.39 125.0,220.97 125.5,220.88 126.0,221.06 126.5,220.94 127.0,221.02 127.5,221.73 128.0,222.16 128.5,222.32 129.0,222.23 129.5,221.91 130.0,221.62 130.5,221.21 131.0,221.64 131.5,221.84 132.0,221.99 132.5,221.70 133.0,221.58 133.5,221.68 134.0,221.58 134.5,221.19 135.0,220.37 135.5,219.86 136.0,219.51 136.5,219.37 137.0,219.14 137.5,218.92 138.0,218.52 138.5,217.81 139.0,217.18 139.5,216.49 140.0,216.50 140.5,216.16 141.0,216.04 141.5,215.45 142.0,215.30 142.5,214.79 143.0,213.97 143.5,213.60 144.0,212.57 144.5,211.82 145.0,210.22 145.5,209.36 146.0,208.00 146.5,207.16 147.0,205.89 147.5,204.54 148.0,203.17 148.5,201.53 149.0,200.23 149.5,198.81 150.0,197.56 150.5,196.32 151.0,194.89 151.5,193.50 152.0,192.09 152.5,190.64 153.0,189.15 153.5,187.58 154.0,185.98 154.5,184.29 155.0,182.52 155.5,181.04 156.0,179.60 156.5,177.81 157.0,175.93 157.5,174.06 158.0,172.33 158.5,170.48 159.0,168.44 159.5,166.49 160.0,164.54 160.5,162.65 161.0,160.78 161.5,158.90 162.0,157.09 162.5,155.35 163.0,153.69 163.5,152.15 164.0,150.54 164.5,149.09 165.0,147.45 165.5,145.95 166.0,144.25 166.5,142.81 167.0,141.03 167.5,139.12 168.0,136.71 168.5,134.21 169.0,131.53 169.5,128.93 170.0,126.25 170.5,123.18 171.0,120.06 171.5,116.48 172.0,112.83 172.5,109.54 173.0,106.67 173.5,104.10 174.0,101.87 174.5,99.98 175.0,98.11 175.5,96.43 176.0,95.07 176.5,93.87 177.0,92.89 177.5,91.98 178.0,91.65 178.5,91.46 179.0,91.81 179.5,92.48 180.0,93.45 180.5,94.77 181.0,96.70 181.5,98.78 182.0,100.83 182.5,103.00 183.0,105.30 183.5,107.74 184.0,109.97 184.5,112.06 185.0,114.02 185.5,116.14 186.0,118.45 186.5,121.11 187.0,123.95 187.5,127.17 188.0,130.60 188.5,134.10 189.0,137.69 189.5,141.38 190.0,144.92 190.5,148.22 191.0,151.16 191.5,154.15 192.0,157.15 192.5,160.00 193.0,162.84 193.5,165.50 194.0,168.31 194.5,171.08 195.0,173.88 195.5,176.64 196.0,179.62 196.5,182.54 197.0,185.47 197.5,188.32 198.0,191.14 198.5,193.94 199.0,196.44 199.5,199.06 200.0,201.27 200.5,203.66 201.0,205.81 201.5,208.07 202.0,210.24 202.5,212.41 203.0,214.61 203.5,216.75 204.0,218.89 204.5,221.08 205.0,223.25 205.5,225.65 206.0,227.99 206.5,230.24 207.0,232.31 207.5,234.40 208.0,236.53 208.5,238.77 209.0,240.90 209.5,243.05 210.0,244.90 210.5,246.81 211.0,248.79 211.5,250.68 212.0,252.62 212.5,254.34 213.0,256.39 213.5,258.59 214.0,260.60 214.5,262.61 215.0,264.40 215.5,266.24 216.0,267.95 216.5,269.69 217.0,271.60 217.5,273.33 218.0,274.99 218.5,276.75 219.0,278.44 219.5,280.08 220.0,281.55 220.5,283.06 221.0,284.45 221.5,285.72 222.0,287.03 222.5,288.25 223.0,289.35 223.5,290.45 224.0,291.51 224.5,292.67 225.0,293.62 225.5,294.50 226.0,295.46 226.5,296.32 227.0,297.17 227.5,297.79 228.0,298.56 228.5,299.26 229.0,299.98 229.5,300.63 230.0,301.29 230.5,301.96 231.0,302.58 231.5,303.43 232.0,304.00 232.5,304.84 233.0,305.35 233.5,306.09 234.0,306.66 234.5,307.10 235.0,307.72 235.5,308.22 236.0,308.85 236.5,309.23 237.0,309.76 237.5,310.21 238.0,310.91 238.5,311.39 239.0,312.06 239.5,312.44 240.0,312.91 240.5,313.30 241.0,313.70 241.5,314.29 242.0,314.78 242.5,315.34 243.0,315.76 243.5,316.27 244.0,316.72 244.5,317.22 245.0,317.55 245.5,317.87 246.0,318.16 246.5,318.56 247.0,318.98 247.5,319.39 248.0,319.77 248.5,320.07 249.0,320.19 249.5,320.41 250.0,320.62 250.5,320.95 251.0,321.14 251.5,321.31 252.0,321.46 252.5,321.60 253.0,321.75 253.5,321.94 254.0,322.16 254.5,322.47 255.0,322.62 255.5,322.68 256.0,322.85 256.5,323.10 257.0,323.25 257.5,323.22 258.0,323.30 258.5,323.53 259.0,323.58 259.5,323.71 260.0,323.81 260.5,324.06 261.0,324.16 261.5,324.19 262.0,324.17 262.5,324.19 263.0,324.39 263.5,324.52 264.0,324.61 264.5,324.61 265.0,324.74 265.5,324.60 266.0,324.57 266.5,324.60 267.0,324.63 267.5,324.60 268.0,324.54 268.5,324.62 269.0,324.63 269.5,324.48 270.0,324.67 270.5,324.80 271.0,325.13 271.5,324.93 272.0,324.97 272.5,324.83 273.0,324.97 273.5,324.83 274.0,325.01 274.5,325.01 275.0,325.25 275.5,325.05 276.0,325.30 276.5,325.16 277.0,325.53 277.5,325.36 278.0,325.55 278.5,325.31 279.0,325.57 279.5,325.57 280.0,325.60 280.5,325.38 281.0,325.59 281.5,325.80 282.0,325.88 282.5,325.93 283.0,326.10 283.5,326.31 284.0,326.34 284.5,326.06 285.0,326.20 285.5,326.27 286.0,326.24 286.5,325.98 287.0,325.56 287.5,325.81 288.0,325.75 288.5,326.06 289.0,326.17 289.5,326.12 290.0,326.25 290.5,325.99 291.0,326.00 291.5,326.01 292.0,326.06 292.5,326.05 293.0,325.89 293.5,325.69 294.0,325.60 294.5,325.40 295.0,325.55 295.5,325.37 296.0,325.16 296.5,325.06 297.0,325.00 297.5,325.07 298.0,324.81 298.5,324.74 299.0,324.57 299.5,324.51 300.0,324.60 300.5,324.70 301.0,324.63 301.5,324.65 302.0,324.46 302.5,324.22 303.0,324.04 303.5,323.94 304.0,324.00 304.5,323.76 305.0,323.56 305.5,323.31 306.0,323.00 306.5,323.00 307.0,322.82 307.5,322.85 308.0,322.63 308.5,322.99 309.0,322.90 309.5,323.12 310.0,322.37 310.5,322.37 311.0,322.35 311.5,322.65 312.0,322.68 312.5,322.18 313.0,321.74 313.5,321.68 314.0,321.84 314.5,322.25 315.0,322.39 315.5,322.11 316.0,321.90 316.5,321.09 317.0,320.92 317.5,320.73 318.0,321.20 318.5,321.46 319.0,321.59 319.5,321.33 320.0,320.87 320.5,320.46 321.0,320.26 321.5,320.21 322.0,320.35 322.5,320.24 323.0,319.84 323.5,319.35 324.0,319.87 324.5,320.39 325.0,320.50 325.5,319.91 326.0,319.81 326.5,320.00 327.0,320.17 327.5,319.75 328.0,319.52 328.5,319.60 329.0,320.23 329.5,320.69 330.0,321.11 330.5,321.13 331.0,321.27 331.5,321.12 332.0,321.45 332.5,321.42 333.0,321.94 333.5,321.66 334.0,322.05 334.5,321.90 335.0,322.56 335.5,322.30 336.0,322.11 336.5,321.86 337.0,322.37 337.5,322.86 338.0,322.52 338.5,322.42 339.0,322.39 339.5,323.09 340.0,323.30 340.5,323.28 341.0,323.26 341.5,322.80 342.0,323.01 342.5,322.47 343.0,322.83 343.5,322.44 344.0,323.02 344.5,322.85 345.0,323.23 345.5,323.23 346.0,323.58 346.5,323.62 347.0,323.80 347.5,323.62 348.0,323.57 348.5,323.42 349.0,323.63 349.5,323.45 350.0,322.74 350.5,322.45 351.0,322.33 351.5,322.70 352.0,322.50 352.5,322.43 353.0,322.27 353.5,322.47 354.0,322.60 354.5,322.64 355.0,322.57 355.5,321.88 356.0,321.53 356.5,321.15 357.0,321.10 357.5,321.25 358.0,321.26 358.5,321.79 359.0,321.60 359.5,321.84 360.0,321.20 360.5,321.27 361.0,321.18 361.5,321.54 362.0,321.05 362.5,320.90 363.0,321.00 363.5,321.31 364.0,321.30 364.5,321.22 365.0,321.80 365.5,322.34 366.0,322.21 366.5,322.03 367.0,322.24 367.5,323.02 368.0,323.82 368.5,323.58 369.0,323.70 369.5,322.82 370.0,323.09 370.5,322.74 371.0,323.16 371.5,322.96 372.0,323.67 372.5,324.63 373.0,325.03 373.5,324.94 374.0,325.12 374.5,325.35 375.0,325.78 375.5,325.91 376.0,326.67 376.5,326.80 377.0,326.15 377.5,326.03 378.0,326.51 378.5,327.36 379.0,327.48 379.5,327.27 380.0,327.73 380.5,328.14 381.0,328.69 381.5,328.79 382.0,329.31 382.5,329.54 383.0,329.74 383.5,329.31 384.0,329.32 384.5,329.55 385.0,330.48 385.5,330.94 386.0,331.07 386.5,331.09 387.0,331.35 387.5,331.53 388.0,331.67 388.5,331.40 389.0,331.77 389.5,332.42 390.0,333.21 390.5,333.58 391.0,333.47 391.5,333.61 392.0,333.31 392.5,333.14 393.0,332.95 393.5,333.63 394.0,334.24 394.5,335.24 395.0,335.28 395.5,334.90 396.0,334.60 396.5,334.85 397.0,335.47 397.5,335.61 398.0,335.98 398.5,335.95 399.0,336.25 399.5,336.60 400.0,337.05 400.5,337.34 401.0,337.08 401.5,337.50 402.0,337.53 402.5,337.74 403.0,337.64 403.5,337.78 404.0,338.15 404.5,338.28 405.0,339.12 405.5,339.67 406.0,340.20 406.5,340.06 407.0,340.00 407.5,340.34 408.0,340.37 408.5,340.62 409.0,340.39 409.5,341.06 410.0,341.68 410.5,342.47 411.0,342.69 411.5,341.89 412.0,341.85 412.5,342.07 413.0,343.17 413.5,342.93 414.0,342.97 414.5,343.28 415.0,343.84 415.5,343.66 416.0,343.54 416.5,343.07 417.0,343.74 417.5,343.92 418.0,344.95 418.5,345.08 419.0,345.55 419.5,346.36 420.0,346.42 420.5,346.62 421.0,345.78 421.5,346.08 422.0,345.82 422.5,346.92 423.0,347.36 423.5,347.99 424.0,348.27 424.5,348.22 425.0,348.59 425.5,348.33 426.0,348.59 426.5,348.81 427.0,349.11 427.5,349.58 428.0,349.55 428.5,349.50 429.0,350.17 429.5,350.83 430.0,351.41 430.5,351.29 431.0,351.10 431.5,351.53 432.0,351.26 432.5,351.92 433.0,352.14 433.5,352.79 434.0,353.09 434.5,353.18 435.0,353.92 435.5,354.11 436.0,353.89 436.5,353.30 437.0,353.80 437.5,354.27 438.0,354.85 438.5,354.36 439.0,355.12 439.5,355.47 440.0,355.99 440.5,355.52 441.0,355.21 441.5,355.47 442.0,355.52 442.5,355.06 443.0,355.19 443.5,355.72 444.0,356.04 444.5,355.73 445.0,355.68 445.5,356.20 446.0,356.67 446.5,356.92 447.0,356.68 447.5,356.20 448.0,356.16 448.5,356.73 449.0,356.73 449.5,356.85 450.0,356.38 450.5,356.78 451.0,355.98 451.5,356.43 452.0,356.86 452.5,357.91 453.0,357.59 453.5,356.18 454.0,355.89 454.5,356.54 455.0,357.54 455.5,357.63 456.0,357.00 456.5,356.92 457.0,356.58 457.5,356.72 458.0,356.84 458.5,357.77 459.0,358.39 459.5,358.46 460.0,358.12 460.5,357.87 461.0,358.07 461.5,358.31 462.0,358.28 462.5,358.67 463.0,358.57 463.5,359.47 464.0,359.24 464.5,359.62 465.0,359.17 465.5,359.72 466.0,359.25 466.5,359.46 467.0,359.16 467.5,359.30 468.0,359.44 468.5,359.73 469.0,360.10 469.5,359.98 470.0,359.89 470.5,359.92 471.0,360.59 471.5,361.01 472.0,361.68 472.5,361.70 473.0,362.14 473.5,361.82 474.0,361.68 474.5,361.22 475.0,361.15 475.5,361.31 476.0,361.44 476.5,361.75 477.0,361.68 477.5,361.92 478.0,361.41 478.5,361.55 479.0,361.27 479.5,361.55 480.0,361.33 480.5,361.54 481.0,362.03 481.5,362.12 482.0,362.24 482.5,362.17 483.0,362.61 483.5,362.77 484.0,362.96 484.5,362.64 485.0,362.11 485.5,362.39 486.0,362.36 486.5,363.05 487.0,362.79 487.5,363.65 488.0,363.50 488.5,363.53 489.0,362.58 489.5,362.94 490.0,363.17 490.5,363.74 491.0,363.59 491.5,364.12 492.0,364.56 492.5,365.07 493.0,364.76 493.5,364.88 494.0,365.04 494.5,365.17 495.0,365.58 495.5,365.35 496.0,366.12 496.5,365.68 497.0,365.72 497.5,365.28 498.0,365.42 498.5,365.60 499.0,365.62 499.5,366.14 500.0,366.09 500.5,366.50 501.0,366.45 501.5,366.68 502.0,366.32 502.5,366.67 503.0,365.92 503.5,365.88 504.0,365.33 504.5,366.27 505.0,366.46 505.5,366.80 506.0,366.85 506.5,367.20 507.0,366.79 507.5,366.81 508.0,367.02 508.5,367.06 509.0,367.02 509.5,366.17 510.0,366.53 510.5,366.30 511.0,366.96 511.5,366.57 512.0,366.87 512.5,366.46 513.0,366.87 513.5,367.07 514.0,368.16 514.5,368.41 515.0,368.56 515.5,368.57 516.0,368.92 516.5,368.62 517.0,368.40 517.5,368.28 518.0,369.01 518.5,369.18 519.0,368.79 519.5,368.56" fill="none" stroke="#000080" stroke-width="1.6" stroke-linejoin="round"/></g>
<g stroke="#3a3a3a" stroke-width="1.4" fill="none">
<line x1="75" y1="36" x2="519.5" y2="36" stroke="#222" stroke-width="2"/>
<line x1="519.5" y1="35" x2="519.5" y2="383.3"/>
<line x1="67.3" y1="383.3" x2="519.5" y2="383.3"/>
<line x1="75" y1="35" x2="75" y2="390.5" stroke="#666" stroke-width="2"/>
</g>
<g stroke="#444" stroke-width="1.4" font-size="17.5"><line x1="67.3" y1="383.30" x2="75" y2="383.30"/><text x="62.3" y="387.10" text-anchor="end">0.00</text><line x1="67.3" y1="325.42" x2="75" y2="325.42"/><text x="62.3" y="329.22" text-anchor="end">0.06</text><line x1="67.3" y1="267.53" x2="75" y2="267.53"/><text x="62.3" y="271.33" text-anchor="end">0.12</text><line x1="67.3" y1="209.65" x2="75" y2="209.65"/><text x="62.3" y="213.45" text-anchor="end">0.18</text><line x1="67.3" y1="151.77" x2="75" y2="151.77"/><text x="62.3" y="155.57" text-anchor="end">0.24</text><line x1="67.3" y1="93.88" x2="75" y2="93.88"/><text x="62.3" y="97.68" text-anchor="end">0.30</text><line x1="67.3" y1="36.00" x2="75" y2="36.00"/><text x="62.3" y="39.80" text-anchor="end">0.36</text><line x1="71.5" y1="354.36" x2="75" y2="354.36"/><line x1="71.5" y1="296.48" x2="75" y2="296.48"/><line x1="71.5" y1="238.59" x2="75" y2="238.59"/><line x1="71.5" y1="180.71" x2="75" y2="180.71"/><line x1="71.5" y1="122.82" x2="75" y2="122.82"/><line x1="71.5" y1="64.94" x2="75" y2="64.94"/><line x1="75.00" y1="383.3" x2="75.00" y2="390.3"/><text x="75.00" y="409.6" text-anchor="middle">300</text><line x1="163.90" y1="383.3" x2="163.90" y2="390.3"/><text x="163.90" y="409.6" text-anchor="middle">400</text><line x1="252.80" y1="383.3" x2="252.80" y2="390.3"/><text x="252.80" y="409.6" text-anchor="middle">500</text><line x1="341.70" y1="383.3" x2="341.70" y2="390.3"/><text x="341.70" y="409.6" text-anchor="middle">600</text><line x1="430.60" y1="383.3" x2="430.60" y2="390.3"/><text x="430.60" y="409.6" text-anchor="middle">700</text><line x1="519.50" y1="383.3" x2="519.50" y2="390.3"/><text x="519.50" y="409.6" text-anchor="middle">800</text><line x1="119.45" y1="383.3" x2="119.45" y2="386.5"/><line x1="208.35" y1="383.3" x2="208.35" y2="386.5"/><line x1="297.25" y1="383.3" x2="297.25" y2="386.5"/><line x1="386.15" y1="383.3" x2="386.15" y2="386.5"/><line x1="475.05" y1="383.3" x2="475.05" y2="386.5"/></g>
<text x="19.2" y="191.6" font-size="17.8" text-anchor="middle" transform="rotate(-90 19.2 191.6)">Absorbance</text>
<text x="297.25" y="425.4" font-size="17" text-anchor="middle">Wavelength (nm)</text>
<!-- arrow -->
<line x1="212.3" y1="59" x2="212.3" y2="112" stroke="#000" stroke-width="2"/>
<path d="M207.6,110.5 L217.2,110.5 L212.3,120.8 Z" fill="#000"/>
<!-- inset -->
<g stroke="#222" stroke-width="1.4" font-size="15">
<line x1="333.5" y1="53" x2="333.5" y2="209.9"/>
<line x1="333.5" y1="209.9" x2="517" y2="209.9"/>
<line x1="326.5" y1="209.90" x2="333.5" y2="209.90"/><text x="322" y="213.10" text-anchor="end">20</text><line x1="326.5" y1="178.62" x2="333.5" y2="178.62"/><text x="322" y="181.82" text-anchor="end">30</text><line x1="326.5" y1="147.34" x2="333.5" y2="147.34"/><text x="322" y="150.54" text-anchor="end">40</text><line x1="326.5" y1="116.06" x2="333.5" y2="116.06"/><text x="322" y="119.26" text-anchor="end">50</text><line x1="326.5" y1="84.78" x2="333.5" y2="84.78"/><text x="322" y="87.98" text-anchor="end">60</text><line x1="326.5" y1="53.50" x2="333.5" y2="53.50"/><text x="322" y="56.70" text-anchor="end">70</text><line x1="329.5" y1="194.26" x2="333.5" y2="194.26"/><line x1="329.5" y1="162.98" x2="333.5" y2="162.98"/><line x1="329.5" y1="131.70" x2="333.5" y2="131.70"/><line x1="329.5" y1="100.42" x2="333.5" y2="100.42"/><line x1="329.5" y1="69.14" x2="333.5" y2="69.14"/><line x1="351.50" y1="209.9" x2="351.50" y2="216.5"/><text x="351.50" y="232.8" text-anchor="middle">5</text><line x1="388.50" y1="209.9" x2="388.50" y2="216.5"/><text x="388.50" y="232.8" text-anchor="middle">10</text><line x1="425.50" y1="209.9" x2="425.50" y2="216.5"/><text x="425.50" y="232.8" text-anchor="middle">15</text><line x1="462.50" y1="209.9" x2="462.50" y2="216.5"/><text x="462.50" y="232.8" text-anchor="middle">20</text><line x1="499.50" y1="209.9" x2="499.50" y2="216.5"/><text x="499.50" y="232.8" text-anchor="middle">25</text><line x1="370.00" y1="209.9" x2="370.00" y2="213.2"/><line x1="407.00" y1="209.9" x2="407.00" y2="213.2"/><line x1="444.00" y1="209.9" x2="444.00" y2="213.2"/><line x1="481.00" y1="209.9" x2="481.00" y2="213.2"/><line x1="517" y1="209.9" x2="517" y2="213.2"/>
</g>
<line x1="345.5" y1="188.2" x2="499.5" y2="58.4" stroke="#000" stroke-width="1.6"/>
<g fill="#000"><rect x="342.5" y="192.3" width="6" height="6"/><rect x="373.0" y="160.2" width="6" height="6"/><rect x="403.4" y="123.6" width="6" height="6"/><rect x="434.6" y="99.6" width="6" height="6"/><rect x="465.0" y="82.0" width="6" height="6"/><rect x="495.8" y="62.0" width="6" height="6"/></g>
<text x="425" y="256" font-size="14.5" text-anchor="middle">[DNA]×10<tspan font-size="8.5" dx="1" dy="-7.5">6</tspan><tspan dy="7.5"> M</tspan></text>
<text x="294.8" y="128.1" font-size="15.7" text-anchor="middle" transform="rotate(-90 294.8 128.1)">[DNA]/(ε<tspan font-size="7" dy="4">a</tspan><tspan dx="4.2" dy="-4">-ε</tspan><tspan font-size="7" dy="4">f</tspan><tspan dy="-4">)×10</tspan><tspan font-size="9" dy="-6.5">10</tspan><tspan dy="6.5"> M </tspan><tspan font-size="9" dy="-6.5">2</tspan><tspan dy="6.5"> cm</tspan></text>
<!-- legend -->
<g stroke-width="2">
<line x1="110" y1="439" x2="159.6" y2="439" stroke="#000"/>
<line x1="247" y1="439" x2="297.2" y2="439" stroke="#ff0000"/>
<line x1="393.7" y1="439" x2="443.8" y2="439" stroke="#0000ff"/>
<line x1="110" y1="466" x2="159.6" y2="466" stroke="#ff00ff"/>
<line x1="247" y1="466" x2="297.2" y2="466" stroke="#008000"/>
<line x1="393.7" y1="466" x2="443.8" y2="466" stroke="#000080"/>
</g>
<g font-size="16.5">
<text x="165" y="446.5">r = 0</text>
<text x="302.4" y="446.5">r = 0.5</text>
<text x="448.2" y="446.5">r = 1</text>
<text x="165" y="473.2">r = 1.5</text>
<text x="302.4" y="473.2">r = 2</text>
<text x="448.2" y="473.2">r = 2.5</text>
</g>
</svg>
</body></html>
